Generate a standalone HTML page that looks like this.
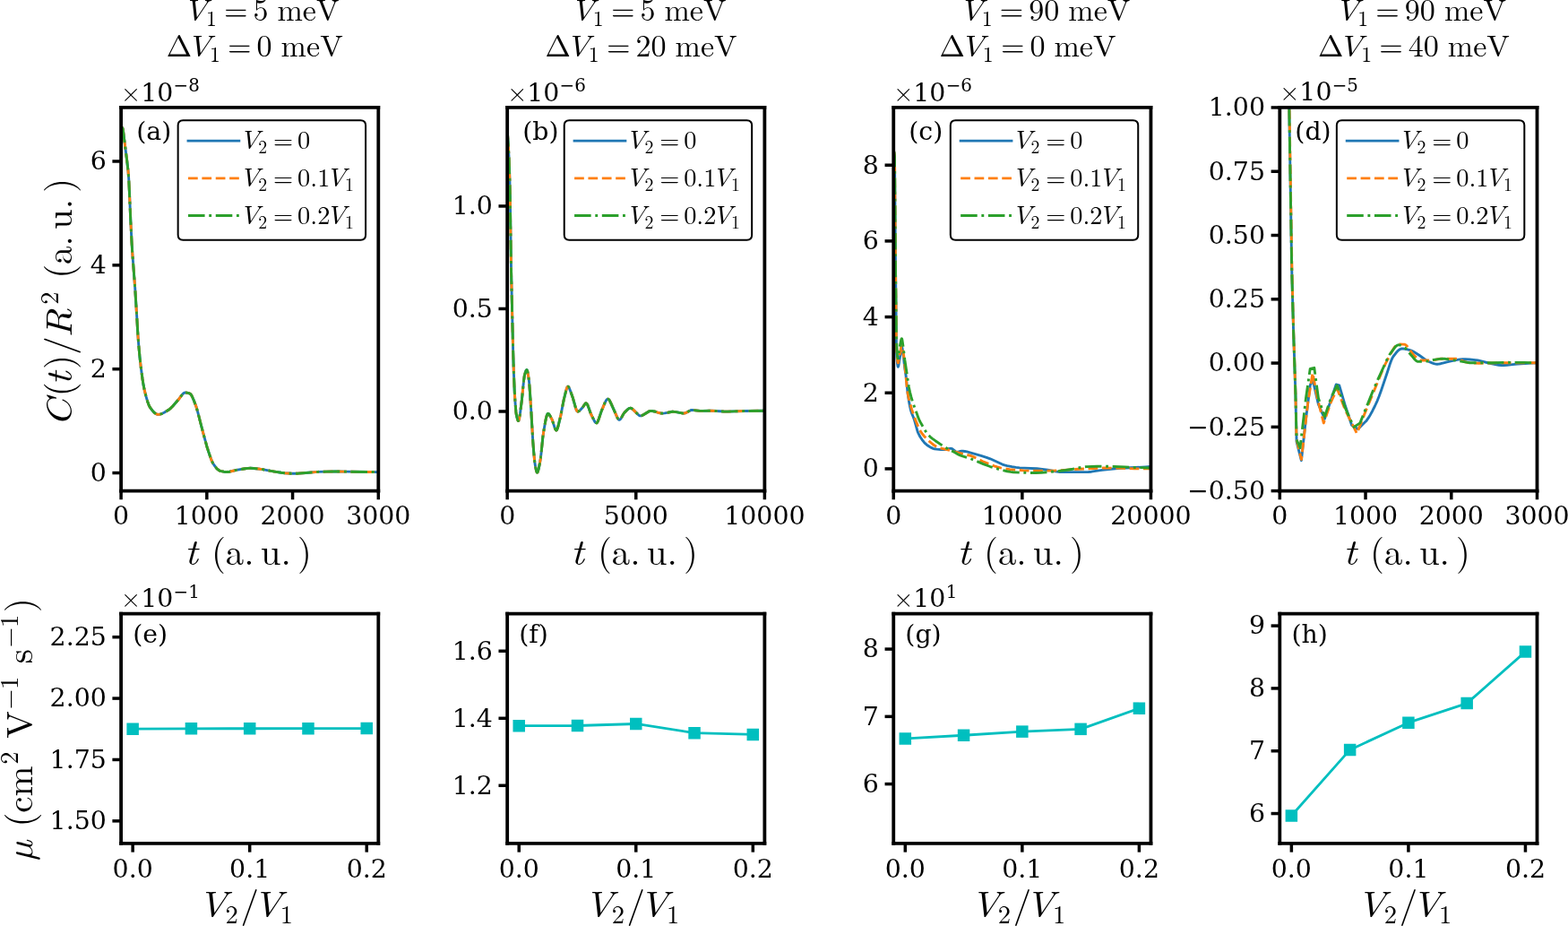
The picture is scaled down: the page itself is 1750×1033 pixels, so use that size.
<!DOCTYPE html>
<html><head><meta charset="utf-8"><title>Figure</title>
<style>html,body{margin:0;padding:0;background:#fff;overflow:hidden;}svg{display:block;}</style>
</head><body>
<svg width="1750" height="1033" viewBox="0 0 1750 1033" version="1.1">
<defs>
<style type="text/css">*{stroke-linejoin: round; stroke-linecap: butt}</style>
</defs>
<g id="figure_1">
<g id="patch_1">
<path d="M 0 1033 
L 1750 1033 
L 1750 0 
L 0 0 
z
" style="fill: #ffffff"/>
</g>
<g id="axes_1">
<g id="patch_2">
<path d="M 135.1 547.6 
L 422.3 547.6 
L 422.3 119.95 
L 135.1 119.95 
z
" style="fill: #ffffff"/>
</g>
<g id="matplotlib.axis_1">
<g id="xtick_1">
<g id="line2d_1">
<defs>
<path id="m4d94d78a84" d="M 0 0 
L 0 9.7 
" style="stroke: #000000; stroke-width: 3.5"/>
</defs>
<g>
<use href="#m4d94d78a84" x="135.1" y="547.6" style="stroke: #000000; stroke-width: 3.5"/>
</g>
</g>
<g id="text_1">
<text style="font-size: 28.4px; font-family: 'DejaVu Serif', serif; text-anchor: middle" x="135.1" y="585.479563" transform="rotate(-0 135.1 585.479563)">0</text>
</g>
</g>
<g id="xtick_2">
<g id="line2d_2">
<g>
<use href="#m4d94d78a84" x="230.833333" y="547.6" style="stroke: #000000; stroke-width: 3.5"/>
</g>
</g>
<g id="text_2">
<text style="font-size: 28.4px; font-family: 'DejaVu Serif', serif; text-anchor: middle" x="230.833333" y="585.479563" transform="rotate(-0 230.833333 585.479563)">1000</text>
</g>
</g>
<g id="xtick_3">
<g id="line2d_3">
<g>
<use href="#m4d94d78a84" x="326.566667" y="547.6" style="stroke: #000000; stroke-width: 3.5"/>
</g>
</g>
<g id="text_3">
<text style="font-size: 28.4px; font-family: 'DejaVu Serif', serif; text-anchor: middle" x="326.566667" y="585.479563" transform="rotate(-0 326.566667 585.479563)">2000</text>
</g>
</g>
<g id="xtick_4">
<g id="line2d_4">
<g>
<use href="#m4d94d78a84" x="422.3" y="547.6" style="stroke: #000000; stroke-width: 3.5"/>
</g>
</g>
<g id="text_4">
<text style="font-size: 28.4px; font-family: 'DejaVu Serif', serif; text-anchor: middle" x="422.3" y="585.479563" transform="rotate(-0 422.3 585.479563)">3000</text>
</g>
</g>
</g>
<g id="matplotlib.axis_2">
<g id="ytick_1">
<g id="line2d_5">
<defs>
<path id="ma1a91463b4" d="M 0 0 
L -9.7 0 
" style="stroke: #000000; stroke-width: 3.5"/>
</defs>
<g>
<use href="#ma1a91463b4" x="135.1" y="527.55" style="stroke: #000000; stroke-width: 3.5"/>
</g>
</g>
<g id="text_5">
<text style="font-size: 28.4px; font-family: 'DejaVu Serif', serif; text-anchor: end" x="118.8" y="536.940" transform="rotate(-0 118.8 536.940)">0</text>
</g>
</g>
<g id="ytick_2">
<g id="line2d_6">
<g>
<use href="#ma1a91463b4" x="135.1" y="411.69" style="stroke: #000000; stroke-width: 3.5"/>
</g>
</g>
<g id="text_6">
<text style="font-size: 28.4px; font-family: 'DejaVu Serif', serif; text-anchor: end" x="118.8" y="421.080" transform="rotate(-0 118.8 421.080)">2</text>
</g>
</g>
<g id="ytick_3">
<g id="line2d_7">
<g>
<use href="#ma1a91463b4" x="135.1" y="295.83" style="stroke: #000000; stroke-width: 3.5"/>
</g>
</g>
<g id="text_7">
<text style="font-size: 28.4px; font-family: 'DejaVu Serif', serif; text-anchor: end" x="118.8" y="305.220" transform="rotate(-0 118.8 305.220)">4</text>
</g>
</g>
<g id="ytick_4">
<g id="line2d_8">
<g>
<use href="#ma1a91463b4" x="135.1" y="179.97" style="stroke: #000000; stroke-width: 3.5"/>
</g>
</g>
<g id="text_8">
<text style="font-size: 28.4px; font-family: 'DejaVu Serif', serif; text-anchor: end" x="118.8" y="189.360" transform="rotate(-0 118.8 189.360)">6</text>
</g>
</g>
</g>
<g id="line2d_9">
<path d="M 135.1 141.5 
L 135.510873 141.597 
L 135.921745 141.868595 
L 136.8 142.9 
L 137.154363 144.048429 
L 137.565236 146.645865 
L 139.619599 163.026658 
L 141.5 177.5 
L 142.906581 189.710882 
L 143.728326 199.698481 
L 144.550072 217.245309 
L 145.78269 245.827871 
L 147.015308 270.226626 
L 147.837053 283.428229 
L 150.713162 321.332834 
L 152.767525 354.145226 
L 154.000143 375.059478 
L 154.821888 385.731341 
L 156.054506 399.024968 
L 157.287124 410.05329 
L 158.930615 422.204953 
L 160.163233 429.912893 
L 161.395851 435.982816 
L 163.039342 442.434036 
L 164.682833 447.978964 
L 165.915451 451.362277 
L 166.737196 453.178212 
L 167.7 454.8 
L 170.024177 457.849287 
L 171.667668 459.694713 
L 172.900286 460.827515 
L 174.132904 461.689213 
L 175.365522 462.229651 
L 176.5 462.4 
L 177.830758 462.296153 
L 179.474249 461.910379 
L 181.11774 461.289964 
L 183.172103 460.265749 
L 186.048212 458.554324 
L 188.92432 456.692025 
L 190.567811 455.281498 
L 192.622175 453.175181 
L 198.785265 446.296575 
L 200.428755 444.110399 
L 203.304864 440.25339 
L 204.537482 438.99461 
L 205.359227 438.402942 
L 206.180973 438.063471 
L 207.002718 438.004288 
L 208.646209 438.166412 
L 210.700572 438.645942 
L 211.93319 439.053609 
L 212.754936 439.692038 
L 213.576681 440.796219 
L 214.398426 442.277664 
L 215.631044 445.013636 
L 218.09628 451.243728 
L 219.328898 454.814043 
L 220.972389 460.589958 
L 223.848498 471.98375 
L 226.313734 481.325334 
L 230.833333 497.994833 
L 232.887697 504.398881 
L 235.352933 511.584494 
L 236.585551 514.646904 
L 237.818169 517.096112 
L 239.46166 519.512031 
L 241.516023 522.141639 
L 242.748641 523.437444 
L 243.981259 524.453901 
L 245.213877 525.13547 
L 246.857368 525.602615 
L 249.733476 526.198309 
L 252.198712 526.469053 
L 254.253076 526.465597 
L 256.307439 526.193861 
L 259.183548 525.523473 
L 263.703147 524.405657 
L 273.564092 522.719073 
L 276.851073 522.377315 
L 279.727182 522.30477 
L 283.014163 522.461916 
L 288.355508 522.988399 
L 292.875107 523.570127 
L 298.216452 524.555703 
L 306.433906 526.070722 
L 313.829614 527.299953 
L 317.93834 527.692562 
L 324.923176 528.184717 
L 329.442775 528.299975 
L 332.729757 528.176307 
L 341.358083 527.473945 
L 354.916881 526.326601 
L 364.366953 526.086867 
L 374.63877 526.003477 
L 387.375823 526.168398 
L 411.61731 526.485679 
L 422.3 526.6 
L 422.3 526.6 
" clip-path="url(#pfdea53a54f)" style="fill: none; stroke: #1f77b4; stroke-width: 2.9; stroke-linecap: square"/>
</g>
<g id="line2d_10">
<path d="M 135.1 141.5 
L 135.510873 141.597 
L 135.921745 141.868595 
L 136.8 142.9 
L 137.154363 144.048429 
L 137.565236 146.645865 
L 139.619599 163.026658 
L 141.5 177.5 
L 142.906581 189.710882 
L 143.728326 199.698481 
L 144.550072 217.245309 
L 145.78269 245.827871 
L 147.015308 270.226626 
L 147.837053 283.428229 
L 150.713162 321.332834 
L 152.767525 354.145226 
L 154.000143 375.059478 
L 154.821888 385.731341 
L 156.054506 399.024968 
L 157.287124 410.05329 
L 158.930615 422.204953 
L 160.163233 429.912893 
L 161.395851 435.982816 
L 163.039342 442.434036 
L 164.682833 447.978964 
L 165.915451 451.362277 
L 166.737196 453.178212 
L 167.7 454.8 
L 170.024177 457.849287 
L 171.667668 459.694713 
L 172.900286 460.827515 
L 174.132904 461.689213 
L 175.365522 462.229651 
L 176.5 462.4 
L 177.830758 462.296153 
L 179.474249 461.910379 
L 181.11774 461.289964 
L 183.172103 460.265749 
L 186.048212 458.554324 
L 188.92432 456.692025 
L 190.567811 455.281498 
L 192.622175 453.175181 
L 198.785265 446.296575 
L 200.428755 444.110399 
L 203.304864 440.25339 
L 204.537482 438.99461 
L 205.359227 438.402942 
L 206.180973 438.063471 
L 207.002718 438.004288 
L 208.646209 438.166412 
L 210.700572 438.645942 
L 211.93319 439.053609 
L 212.754936 439.692038 
L 213.576681 440.796219 
L 214.398426 442.277664 
L 215.631044 445.013636 
L 218.09628 451.243728 
L 219.328898 454.814043 
L 220.972389 460.589958 
L 223.848498 471.98375 
L 226.313734 481.325334 
L 230.833333 497.994833 
L 232.887697 504.398881 
L 235.352933 511.584494 
L 236.585551 514.646904 
L 237.818169 517.096112 
L 239.46166 519.512031 
L 241.516023 522.141639 
L 242.748641 523.437444 
L 243.981259 524.453901 
L 245.213877 525.13547 
L 246.857368 525.602615 
L 249.733476 526.198309 
L 252.198712 526.469053 
L 254.253076 526.465597 
L 256.307439 526.193861 
L 259.183548 525.523473 
L 263.703147 524.405657 
L 273.564092 522.719073 
L 276.851073 522.377315 
L 279.727182 522.30477 
L 283.014163 522.461916 
L 288.355508 522.988399 
L 292.875107 523.570127 
L 298.216452 524.555703 
L 306.433906 526.070722 
L 313.829614 527.299953 
L 317.93834 527.692562 
L 324.923176 528.184717 
L 329.442775 528.299975 
L 332.729757 528.176307 
L 341.358083 527.473945 
L 354.916881 526.326601 
L 364.366953 526.086867 
L 374.63877 526.003477 
L 387.375823 526.168398 
L 411.61731 526.485679 
L 422.3 526.6 
L 422.3 526.6 
" clip-path="url(#pfdea53a54f)" style="fill: none; stroke-dasharray: 10.73,4.64; stroke-dashoffset: 0; stroke: #ff7f0e; stroke-width: 2.9"/>
</g>
<g id="line2d_11">
<path d="M 135.1 141.5 
L 135.510873 141.597 
L 135.921745 141.868595 
L 136.8 142.9 
L 137.154363 144.048429 
L 137.565236 146.645865 
L 139.619599 163.026658 
L 141.5 177.5 
L 142.906581 189.710882 
L 143.728326 199.698481 
L 144.550072 217.245309 
L 145.78269 245.827871 
L 147.015308 270.226626 
L 147.837053 283.428229 
L 150.713162 321.332834 
L 152.767525 354.145226 
L 154.000143 375.059478 
L 154.821888 385.731341 
L 156.054506 399.024968 
L 157.287124 410.05329 
L 158.930615 422.204953 
L 160.163233 429.912893 
L 161.395851 435.982816 
L 163.039342 442.434036 
L 164.682833 447.978964 
L 165.915451 451.362277 
L 166.737196 453.178212 
L 167.7 454.8 
L 170.024177 457.849287 
L 171.667668 459.694713 
L 172.900286 460.827515 
L 174.132904 461.689213 
L 175.365522 462.229651 
L 176.5 462.4 
L 177.830758 462.296153 
L 179.474249 461.910379 
L 181.11774 461.289964 
L 183.172103 460.265749 
L 186.048212 458.554324 
L 188.92432 456.692025 
L 190.567811 455.281498 
L 192.622175 453.175181 
L 198.785265 446.296575 
L 200.428755 444.110399 
L 203.304864 440.25339 
L 204.537482 438.99461 
L 205.359227 438.402942 
L 206.180973 438.063471 
L 207.002718 438.004288 
L 208.646209 438.166412 
L 210.700572 438.645942 
L 211.93319 439.053609 
L 212.754936 439.692038 
L 213.576681 440.796219 
L 214.398426 442.277664 
L 215.631044 445.013636 
L 218.09628 451.243728 
L 219.328898 454.814043 
L 220.972389 460.589958 
L 223.848498 471.98375 
L 226.313734 481.325334 
L 230.833333 497.994833 
L 232.887697 504.398881 
L 235.352933 511.584494 
L 236.585551 514.646904 
L 237.818169 517.096112 
L 239.46166 519.512031 
L 241.516023 522.141639 
L 242.748641 523.437444 
L 243.981259 524.453901 
L 245.213877 525.13547 
L 246.857368 525.602615 
L 249.733476 526.198309 
L 252.198712 526.469053 
L 254.253076 526.465597 
L 256.307439 526.193861 
L 259.183548 525.523473 
L 263.703147 524.405657 
L 273.564092 522.719073 
L 276.851073 522.377315 
L 279.727182 522.30477 
L 283.014163 522.461916 
L 288.355508 522.988399 
L 292.875107 523.570127 
L 298.216452 524.555703 
L 306.433906 526.070722 
L 313.829614 527.299953 
L 317.93834 527.692562 
L 324.923176 528.184717 
L 329.442775 528.299975 
L 332.729757 528.176307 
L 341.358083 527.473945 
L 354.916881 526.326601 
L 364.366953 526.086867 
L 374.63877 526.003477 
L 387.375823 526.168398 
L 411.61731 526.485679 
L 422.3 526.6 
L 422.3 526.6 
" clip-path="url(#pfdea53a54f)" style="fill: none; stroke-dasharray: 18.56,4.64,2.9,4.64; stroke-dashoffset: 0; stroke: #2ca02c; stroke-width: 2.9"/>
</g>
<g id="patch_3">
<path d="M 135.1 547.6 
L 135.1 119.95 
" style="fill: none; stroke: #000000; stroke-width: 3.8; stroke-linejoin: miter; stroke-linecap: square"/>
</g>
<g id="patch_4">
<path d="M 422.3 547.6 
L 422.3 119.95 
" style="fill: none; stroke: #000000; stroke-width: 3.8; stroke-linejoin: miter; stroke-linecap: square"/>
</g>
<g id="patch_5">
<path d="M 135.1 547.6 
L 422.3 547.6 
" style="fill: none; stroke: #000000; stroke-width: 3.8; stroke-linejoin: miter; stroke-linecap: square"/>
</g>
<g id="patch_6">
<path d="M 135.1 119.95 
L 422.3 119.95 
" style="fill: none; stroke: #000000; stroke-width: 3.8; stroke-linejoin: miter; stroke-linecap: square"/>
</g>
<g id="legend_1">
<g id="patch_7">
<path d="M 204.33 267.727625 
L 402.42 267.727625 
Q 408.1 267.727625 408.1 262.047625 
L 408.1 139.83 
Q 408.1 134.15 402.42 134.15 
L 204.33 134.15 
Q 198.65 134.15 198.65 139.83 
L 198.65 262.047625 
Q 198.65 267.727625 204.33 267.727625 
z
" style="fill: #ffffff; stroke: #000000; stroke-width: 2; stroke-linejoin: miter"/>
</g>
<g id="line2d_12">
<path d="M 210.01 157.149563 
L 238.41 157.149563 
L 266.81 157.149563 
" style="fill: none; stroke: #1f77b4; stroke-width: 2.9; stroke-linecap: square"/>
</g>
<g id="text_9">
<g transform="translate(271.78 167.089563)">
<text><tspan x="-4.863" y="-0.609" textLength="22.858" lengthAdjust="spacingAndGlyphs" style="font-size: 28.4px; font-family: 'LM Roman 10', 'Latin Modern Roman', 'Latin Modern Math', 'Liberation Serif', serif; font-style: italic">V</tspan><tspan x="16.552" y="4.220" style="font-size: 19.88px; font-family: 'LM Roman 10', 'Latin Modern Roman', 'Latin Modern Math', 'Liberation Serif', serif">2</tspan><tspan x="30.181 33.285 57.601 60.325" y="-0.609" style="font-size: 28.4px; font-family: 'LM Roman 10', 'Latin Modern Roman', 'Latin Modern Math', 'Liberation Serif', serif"> = 0</tspan></text>
</g>
</g>
<g id="line2d_13">
<path d="M 210.01 198.835438 
L 238.41 198.835438 
L 266.81 198.835438 
" style="fill: none; stroke-dasharray: 10.73,4.64; stroke-dashoffset: 0; stroke: #ff7f0e; stroke-width: 2.9"/>
</g>
<g id="text_10">
<g transform="translate(271.78 208.775438)">
<text><tspan x="-4.863" y="-0.609" textLength="22.858" lengthAdjust="spacingAndGlyphs" style="font-size: 28.4px; font-family: 'LM Roman 10', 'Latin Modern Roman', 'Latin Modern Math', 'Liberation Serif', serif; font-style: italic">V</tspan><tspan x="16.552" y="4.220" style="font-size: 19.88px; font-family: 'LM Roman 10', 'Latin Modern Roman', 'Latin Modern Math', 'Liberation Serif', serif">2</tspan><tspan x="30.181 33.285 57.601 60.325 74.521 82.381" y="-0.609" style="font-size: 28.4px; font-family: 'LM Roman 10', 'Latin Modern Roman', 'Latin Modern Math', 'Liberation Serif', serif"> = 0.1</tspan><tspan x="91.713" y="-0.609" textLength="22.858" lengthAdjust="spacingAndGlyphs" style="font-size: 28.4px; font-family: 'LM Roman 10', 'Latin Modern Roman', 'Latin Modern Math', 'Liberation Serif', serif; font-style: italic">V</tspan><tspan x="113.128" y="4.220" style="font-size: 19.88px; font-family: 'LM Roman 10', 'Latin Modern Roman', 'Latin Modern Math', 'Liberation Serif', serif">1</tspan></text>
</g>
</g>
<g id="line2d_14">
<path d="M 210.01 240.521313 
L 238.41 240.521313 
L 266.81 240.521313 
" style="fill: none; stroke-dasharray: 18.56,4.64,2.9,4.64; stroke-dashoffset: 0; stroke: #2ca02c; stroke-width: 2.9"/>
</g>
<g id="text_11">
<g transform="translate(271.78 250.461313)">
<text><tspan x="-4.863" y="-0.609" textLength="22.858" lengthAdjust="spacingAndGlyphs" style="font-size: 28.4px; font-family: 'LM Roman 10', 'Latin Modern Roman', 'Latin Modern Math', 'Liberation Serif', serif; font-style: italic">V</tspan><tspan x="16.552" y="4.220" style="font-size: 19.88px; font-family: 'LM Roman 10', 'Latin Modern Roman', 'Latin Modern Math', 'Liberation Serif', serif">2</tspan><tspan x="30.181 33.285 57.601 60.325 74.521 82.381" y="-0.609" style="font-size: 28.4px; font-family: 'LM Roman 10', 'Latin Modern Roman', 'Latin Modern Math', 'Liberation Serif', serif"> = 0.2</tspan><tspan x="91.713" y="-0.609" textLength="22.858" lengthAdjust="spacingAndGlyphs" style="font-size: 28.4px; font-family: 'LM Roman 10', 'Latin Modern Roman', 'Latin Modern Math', 'Liberation Serif', serif; font-style: italic">V</tspan><tspan x="113.128" y="4.220" style="font-size: 19.88px; font-family: 'LM Roman 10', 'Latin Modern Roman', 'Latin Modern Math', 'Liberation Serif', serif">1</tspan></text>
</g>
</g>
</g>
</g>
<g id="axes_2">
<g id="patch_8">
<path d="M 566.17 547.6 
L 853.37 547.6 
L 853.37 119.95 
L 566.17 119.95 
z
" style="fill: #ffffff"/>
</g>
<g id="matplotlib.axis_3">
<g id="xtick_5">
<g id="line2d_15">
<g>
<use href="#m4d94d78a84" x="566.17" y="547.6" style="stroke: #000000; stroke-width: 3.5"/>
</g>
</g>
<g id="text_12">
<text style="font-size: 28.4px; font-family: 'DejaVu Serif', serif; text-anchor: middle" x="566.17" y="585.479563" transform="rotate(-0 566.17 585.479563)">0</text>
</g>
</g>
<g id="xtick_6">
<g id="line2d_16">
<g>
<use href="#m4d94d78a84" x="709.77" y="547.6" style="stroke: #000000; stroke-width: 3.5"/>
</g>
</g>
<g id="text_13">
<text style="font-size: 28.4px; font-family: 'DejaVu Serif', serif; text-anchor: middle" x="709.77" y="585.479563" transform="rotate(-0 709.77 585.479563)">5000</text>
</g>
</g>
<g id="xtick_7">
<g id="line2d_17">
<g>
<use href="#m4d94d78a84" x="853.37" y="547.6" style="stroke: #000000; stroke-width: 3.5"/>
</g>
</g>
<g id="text_14">
<text style="font-size: 28.4px; font-family: 'DejaVu Serif', serif; text-anchor: middle" x="853.37" y="585.479563" transform="rotate(-0 853.37 585.479563)">10000</text>
</g>
</g>
</g>
<g id="matplotlib.axis_4">
<g id="ytick_5">
<g id="line2d_18">
<g>
<use href="#ma1a91463b4" x="566.17" y="458.97" style="stroke: #000000; stroke-width: 3.5"/>
</g>
</g>
<g id="text_15">
<text style="font-size: 28.4px; font-family: 'DejaVu Serif', serif; text-anchor: end" x="549.87" y="468.360" transform="rotate(-0 549.87 468.360)">0.0</text>
</g>
</g>
<g id="ytick_6">
<g id="line2d_19">
<g>
<use href="#ma1a91463b4" x="566.17" y="344.46" style="stroke: #000000; stroke-width: 3.5"/>
</g>
</g>
<g id="text_16">
<text style="font-size: 28.4px; font-family: 'DejaVu Serif', serif; text-anchor: end" x="549.87" y="353.850" transform="rotate(-0 549.87 353.850)">0.5</text>
</g>
</g>
<g id="ytick_7">
<g id="line2d_20">
<g>
<use href="#ma1a91463b4" x="566.17" y="229.95" style="stroke: #000000; stroke-width: 3.5"/>
</g>
</g>
<g id="text_17">
<text style="font-size: 28.4px; font-family: 'DejaVu Serif', serif; text-anchor: end" x="549.87" y="239.340" transform="rotate(-0 549.87 239.340)">1.0</text>
</g>
</g>
</g>
<g id="line2d_21">
<path d="M 566 145 
L 566.410873 148.671039 
L 567.232618 160.371338 
L 568.054363 176.421365 
L 568.876109 200.479967 
L 569.286981 218.919596 
L 570.519599 300.976805 
L 572.573963 389.330737 
L 573.395708 415.9084 
L 574.217454 435.97995 
L 575.039199 449.48244 
L 575.860944 459.48219 
L 576.3 462.6 
L 577.093562 466.170739 
L 577.915308 468.733256 
L 578.32618 469.371056 
L 578.737053 469.44323 
L 579.147926 468.64091 
L 579.558798 467.01726 
L 580.380544 461.957497 
L 582.434907 445.942417 
L 583.667525 433.439335 
L 584.48927 425.146444 
L 585.311016 419.218684 
L 586.132761 416.141003 
L 586.954506 413.760839 
L 587.365379 412.994691 
L 587.9 412.6 
L 588.187124 412.837525 
L 588.597997 413.914569 
L 589.00887 415.692745 
L 589.830615 420.61124 
L 590.241488 423.389216 
L 590.652361 427.059173 
L 591.474106 437.666973 
L 593.117597 463.637442 
L 594.761087 492.28156 
L 595.993705 507.741902 
L 596.815451 515.705522 
L 597.637196 520.741145 
L 598.458941 524.769686 
L 598.869814 526.183041 
L 599.280687 526.981305 
L 599.5 527.1 
L 599.691559 527.037105 
L 600.102432 526.505901 
L 600.513305 525.498247 
L 601.33505 522.365609 
L 602.567668 516.043397 
L 603.389413 511.198197 
L 604.211159 503.879644 
L 605.854649 487.45386 
L 606.676395 481.858777 
L 608.730758 469.977637 
L 609.552504 466.099953 
L 610.374249 463.203405 
L 610.785122 462.223321 
L 611.195994 461.608839 
L 611.606867 461.400028 
L 612.01774 461.499888 
L 612.428612 461.775591 
L 613.250358 462.75174 
L 614.482976 464.892352 
L 616.126466 468.09505 
L 616.948212 470.400277 
L 619.413448 478.167785 
L 620.235193 479.663442 
L 620.8 480 
L 621.056938 479.917516 
L 621.467811 479.467132 
L 621.878684 478.673235 
L 622.700429 476.276037 
L 623.933047 471.486012 
L 625.987411 462.870309 
L 627.630901 454.084125 
L 629.274392 445.74432 
L 632.150501 434.239005 
L 632.972246 432.046974 
L 633.383119 431.425187 
L 633.8 431.2 
L 634.204864 431.346506 
L 634.615737 431.76528 
L 635.437482 433.24029 
L 636.6701 436.373534 
L 639.135336 443.220049 
L 642.83319 456.212958 
L 643.654936 458.048174 
L 644.065808 458.652523 
L 644.476681 459.010301 
L 644.887554 459.097782 
L 645.709299 458.879421 
L 646.531044 458.368228 
L 647.763662 457.252421 
L 650.228898 454.593559 
L 653.105007 450.313585 
L 653.51588 449.986696 
L 654.1 449.8 
L 654.337625 449.845353 
L 654.748498 450.124655 
L 655.159371 450.631323 
L 655.981116 452.200256 
L 657.213734 455.468253 
L 659.268097 461.245428 
L 660.500715 463.775228 
L 663.376824 469.655146 
L 664.198569 470.88805 
L 665.020315 471.677392 
L 665.7 471.9 
L 665.84206 471.882363 
L 666.252933 471.642968 
L 666.663805 471.149933 
L 667.485551 469.537633 
L 668.307296 467.314836 
L 671.5 457.9 
L 672.826896 454.839126 
L 675.292132 448.931035 
L 676.52475 446.640855 
L 677.346495 445.617046 
L 677.757368 445.298107 
L 678.4 445.1 
L 678.579113 445.116589 
L 678.989986 445.274622 
L 679.811731 446.038383 
L 680.633476 447.294999 
L 681.866094 449.830836 
L 685.563948 458.206316 
L 686.796567 460.897527 
L 688.85093 465.65782 
L 689.672675 467.138119 
L 690.494421 468.108784 
L 691.2 468.4 
L 691.316166 468.392528 
L 691.727039 468.252414 
L 692.548784 467.51493 
L 693.370529 466.319083 
L 695.01402 463.278587 
L 696.246638 461.145457 
L 697.068383 460.131897 
L 700.766237 456.484285 
L 701.998856 455.647892 
L 702.820601 455.312112 
L 703.642346 455.20047 
L 704.464092 455.381597 
L 705.285837 455.836983 
L 706.518455 456.865134 
L 711.8598 462.15231 
L 713.092418 463.289084 
L 713.914163 463.762266 
L 714.735908 463.897864 
L 715.968526 463.69851 
L 717.201144 463.22653 
L 718.844635 462.299916 
L 724.18598 458.943031 
L 725.418598 458.528004 
L 726.651216 458.401122 
L 728.294707 458.544355 
L 730.34907 458.985612 
L 734.046924 460.109009 
L 736.51216 460.771553 
L 738.155651 461.039117 
L 739.799142 461.090765 
L 741.853505 460.886928 
L 744.729614 460.31777 
L 748.83834 459.484544 
L 750.892704 459.303539 
L 752.536195 459.362987 
L 754.590558 459.655104 
L 762.397139 461.081904 
L 763.629757 461.064819 
L 764.862375 460.747223 
L 766.094993 460.186826 
L 770.614592 457.789736 
L 771.84721 457.515813 
L 773.490701 457.540337 
L 776.36681 457.833153 
L 781.297282 458.375149 
L 784.173391 458.378061 
L 794.034335 458.250581 
L 799.37568 458.563845 
L 807.593133 459.066959 
L 812.112732 459.081842 
L 819.919313 458.857696 
L 831.834621 458.523468 
L 853.2 458.2 
L 853.2 458.2 
" clip-path="url(#p619d3c3fff)" style="fill: none; stroke: #1f77b4; stroke-width: 2.9; stroke-linecap: square"/>
</g>
<g id="line2d_22">
<path d="M 566 145 
L 566.410873 148.671039 
L 567.232618 160.371338 
L 568.054363 176.421365 
L 568.876109 200.479967 
L 569.286981 218.919596 
L 570.519599 300.976805 
L 572.573963 389.330737 
L 573.395708 415.9084 
L 574.217454 435.97995 
L 575.039199 449.48244 
L 575.860944 459.48219 
L 576.3 462.6 
L 577.093562 466.170739 
L 577.915308 468.733256 
L 578.32618 469.371056 
L 578.737053 469.44323 
L 579.147926 468.64091 
L 579.558798 467.01726 
L 580.380544 461.957497 
L 582.434907 445.942417 
L 583.667525 433.439335 
L 584.48927 425.146444 
L 585.311016 419.218684 
L 586.132761 416.141003 
L 586.954506 413.760839 
L 587.365379 412.994691 
L 587.9 412.6 
L 588.187124 412.837525 
L 588.597997 413.914569 
L 589.00887 415.692745 
L 589.830615 420.61124 
L 590.241488 423.389216 
L 590.652361 427.059173 
L 591.474106 437.666973 
L 593.117597 463.637442 
L 594.761087 492.28156 
L 595.993705 507.741902 
L 596.815451 515.705522 
L 597.637196 520.741145 
L 598.458941 524.769686 
L 598.869814 526.183041 
L 599.280687 526.981305 
L 599.5 527.1 
L 599.691559 527.037105 
L 600.102432 526.505901 
L 600.513305 525.498247 
L 601.33505 522.365609 
L 602.567668 516.043397 
L 603.389413 511.198197 
L 604.211159 503.879644 
L 605.854649 487.45386 
L 606.676395 481.858777 
L 608.730758 469.977637 
L 609.552504 466.099953 
L 610.374249 463.203405 
L 610.785122 462.223321 
L 611.195994 461.608839 
L 611.606867 461.400028 
L 612.01774 461.499888 
L 612.428612 461.775591 
L 613.250358 462.75174 
L 614.482976 464.892352 
L 616.126466 468.09505 
L 616.948212 470.400277 
L 619.413448 478.167785 
L 620.235193 479.663442 
L 620.8 480 
L 621.056938 479.917516 
L 621.467811 479.467132 
L 621.878684 478.673235 
L 622.700429 476.276037 
L 623.933047 471.486012 
L 625.987411 462.870309 
L 627.630901 454.084125 
L 629.274392 445.74432 
L 632.150501 434.239005 
L 632.972246 432.046974 
L 633.383119 431.425187 
L 633.8 431.2 
L 634.204864 431.346506 
L 634.615737 431.76528 
L 635.437482 433.24029 
L 636.6701 436.373534 
L 639.135336 443.220049 
L 642.83319 456.212958 
L 643.654936 458.048174 
L 644.065808 458.652523 
L 644.476681 459.010301 
L 644.887554 459.097782 
L 645.709299 458.879421 
L 646.531044 458.368228 
L 647.763662 457.252421 
L 650.228898 454.593559 
L 653.105007 450.313585 
L 653.51588 449.986696 
L 654.1 449.8 
L 654.337625 449.845353 
L 654.748498 450.124655 
L 655.159371 450.631323 
L 655.981116 452.200256 
L 657.213734 455.468253 
L 659.268097 461.245428 
L 660.500715 463.775228 
L 663.376824 469.655146 
L 664.198569 470.88805 
L 665.020315 471.677392 
L 665.7 471.9 
L 665.84206 471.882363 
L 666.252933 471.642968 
L 666.663805 471.149933 
L 667.485551 469.537633 
L 668.307296 467.314836 
L 671.5 457.9 
L 672.826896 454.839126 
L 675.292132 448.931035 
L 676.52475 446.640855 
L 677.346495 445.617046 
L 677.757368 445.298107 
L 678.4 445.1 
L 678.579113 445.116589 
L 678.989986 445.274622 
L 679.811731 446.038383 
L 680.633476 447.294999 
L 681.866094 449.830836 
L 685.563948 458.206316 
L 686.796567 460.897527 
L 688.85093 465.65782 
L 689.672675 467.138119 
L 690.494421 468.108784 
L 691.2 468.4 
L 691.316166 468.392528 
L 691.727039 468.252414 
L 692.548784 467.51493 
L 693.370529 466.319083 
L 695.01402 463.278587 
L 696.246638 461.145457 
L 697.068383 460.131897 
L 700.766237 456.484285 
L 701.998856 455.647892 
L 702.820601 455.312112 
L 703.642346 455.20047 
L 704.464092 455.381597 
L 705.285837 455.836983 
L 706.518455 456.865134 
L 711.8598 462.15231 
L 713.092418 463.289084 
L 713.914163 463.762266 
L 714.735908 463.897864 
L 715.968526 463.69851 
L 717.201144 463.22653 
L 718.844635 462.299916 
L 724.18598 458.943031 
L 725.418598 458.528004 
L 726.651216 458.401122 
L 728.294707 458.544355 
L 730.34907 458.985612 
L 734.046924 460.109009 
L 736.51216 460.771553 
L 738.155651 461.039117 
L 739.799142 461.090765 
L 741.853505 460.886928 
L 744.729614 460.31777 
L 748.83834 459.484544 
L 750.892704 459.303539 
L 752.536195 459.362987 
L 754.590558 459.655104 
L 762.397139 461.081904 
L 763.629757 461.064819 
L 764.862375 460.747223 
L 766.094993 460.186826 
L 770.614592 457.789736 
L 771.84721 457.515813 
L 773.490701 457.540337 
L 776.36681 457.833153 
L 781.297282 458.375149 
L 784.173391 458.378061 
L 794.034335 458.250581 
L 799.37568 458.563845 
L 807.593133 459.066959 
L 812.112732 459.081842 
L 819.919313 458.857696 
L 831.834621 458.523468 
L 853.2 458.2 
L 853.2 458.2 
" clip-path="url(#p619d3c3fff)" style="fill: none; stroke-dasharray: 10.73,4.64; stroke-dashoffset: 0; stroke: #ff7f0e; stroke-width: 2.9"/>
</g>
<g id="line2d_23">
<path d="M 566 145 
L 566.410873 148.671039 
L 567.232618 160.371338 
L 568.054363 176.421365 
L 568.876109 200.479967 
L 569.286981 218.919596 
L 570.519599 300.976805 
L 572.573963 389.330737 
L 573.395708 415.9084 
L 574.217454 435.97995 
L 575.039199 449.48244 
L 575.860944 459.48219 
L 576.3 462.6 
L 577.093562 466.170739 
L 577.915308 468.733256 
L 578.32618 469.371056 
L 578.737053 469.44323 
L 579.147926 468.64091 
L 579.558798 467.01726 
L 580.380544 461.957497 
L 582.434907 445.942417 
L 583.667525 433.439335 
L 584.48927 425.146444 
L 585.311016 419.218684 
L 586.132761 416.141003 
L 586.954506 413.760839 
L 587.365379 412.994691 
L 587.9 412.6 
L 588.187124 412.837525 
L 588.597997 413.914569 
L 589.00887 415.692745 
L 589.830615 420.61124 
L 590.241488 423.389216 
L 590.652361 427.059173 
L 591.474106 437.666973 
L 593.117597 463.637442 
L 594.761087 492.28156 
L 595.993705 507.741902 
L 596.815451 515.705522 
L 597.637196 520.741145 
L 598.458941 524.769686 
L 598.869814 526.183041 
L 599.280687 526.981305 
L 599.5 527.1 
L 599.691559 527.037105 
L 600.102432 526.505901 
L 600.513305 525.498247 
L 601.33505 522.365609 
L 602.567668 516.043397 
L 603.389413 511.198197 
L 604.211159 503.879644 
L 605.854649 487.45386 
L 606.676395 481.858777 
L 608.730758 469.977637 
L 609.552504 466.099953 
L 610.374249 463.203405 
L 610.785122 462.223321 
L 611.195994 461.608839 
L 611.606867 461.400028 
L 612.01774 461.499888 
L 612.428612 461.775591 
L 613.250358 462.75174 
L 614.482976 464.892352 
L 616.126466 468.09505 
L 616.948212 470.400277 
L 619.413448 478.167785 
L 620.235193 479.663442 
L 620.8 480 
L 621.056938 479.917516 
L 621.467811 479.467132 
L 621.878684 478.673235 
L 622.700429 476.276037 
L 623.933047 471.486012 
L 625.987411 462.870309 
L 627.630901 454.084125 
L 629.274392 445.74432 
L 632.150501 434.239005 
L 632.972246 432.046974 
L 633.383119 431.425187 
L 633.8 431.2 
L 634.204864 431.346506 
L 634.615737 431.76528 
L 635.437482 433.24029 
L 636.6701 436.373534 
L 639.135336 443.220049 
L 642.83319 456.212958 
L 643.654936 458.048174 
L 644.065808 458.652523 
L 644.476681 459.010301 
L 644.887554 459.097782 
L 645.709299 458.879421 
L 646.531044 458.368228 
L 647.763662 457.252421 
L 650.228898 454.593559 
L 653.105007 450.313585 
L 653.51588 449.986696 
L 654.1 449.8 
L 654.337625 449.845353 
L 654.748498 450.124655 
L 655.159371 450.631323 
L 655.981116 452.200256 
L 657.213734 455.468253 
L 659.268097 461.245428 
L 660.500715 463.775228 
L 663.376824 469.655146 
L 664.198569 470.88805 
L 665.020315 471.677392 
L 665.7 471.9 
L 665.84206 471.882363 
L 666.252933 471.642968 
L 666.663805 471.149933 
L 667.485551 469.537633 
L 668.307296 467.314836 
L 671.5 457.9 
L 672.826896 454.839126 
L 675.292132 448.931035 
L 676.52475 446.640855 
L 677.346495 445.617046 
L 677.757368 445.298107 
L 678.4 445.1 
L 678.579113 445.116589 
L 678.989986 445.274622 
L 679.811731 446.038383 
L 680.633476 447.294999 
L 681.866094 449.830836 
L 685.563948 458.206316 
L 686.796567 460.897527 
L 688.85093 465.65782 
L 689.672675 467.138119 
L 690.494421 468.108784 
L 691.2 468.4 
L 691.316166 468.392528 
L 691.727039 468.252414 
L 692.548784 467.51493 
L 693.370529 466.319083 
L 695.01402 463.278587 
L 696.246638 461.145457 
L 697.068383 460.131897 
L 700.766237 456.484285 
L 701.998856 455.647892 
L 702.820601 455.312112 
L 703.642346 455.20047 
L 704.464092 455.381597 
L 705.285837 455.836983 
L 706.518455 456.865134 
L 711.8598 462.15231 
L 713.092418 463.289084 
L 713.914163 463.762266 
L 714.735908 463.897864 
L 715.968526 463.69851 
L 717.201144 463.22653 
L 718.844635 462.299916 
L 724.18598 458.943031 
L 725.418598 458.528004 
L 726.651216 458.401122 
L 728.294707 458.544355 
L 730.34907 458.985612 
L 734.046924 460.109009 
L 736.51216 460.771553 
L 738.155651 461.039117 
L 739.799142 461.090765 
L 741.853505 460.886928 
L 744.729614 460.31777 
L 748.83834 459.484544 
L 750.892704 459.303539 
L 752.536195 459.362987 
L 754.590558 459.655104 
L 762.397139 461.081904 
L 763.629757 461.064819 
L 764.862375 460.747223 
L 766.094993 460.186826 
L 770.614592 457.789736 
L 771.84721 457.515813 
L 773.490701 457.540337 
L 776.36681 457.833153 
L 781.297282 458.375149 
L 784.173391 458.378061 
L 794.034335 458.250581 
L 799.37568 458.563845 
L 807.593133 459.066959 
L 812.112732 459.081842 
L 819.919313 458.857696 
L 831.834621 458.523468 
L 853.2 458.2 
L 853.2 458.2 
" clip-path="url(#p619d3c3fff)" style="fill: none; stroke-dasharray: 18.56,4.64,2.9,4.64; stroke-dashoffset: 0; stroke: #2ca02c; stroke-width: 2.9"/>
</g>
<g id="patch_9">
<path d="M 566.17 547.6 
L 566.17 119.95 
" style="fill: none; stroke: #000000; stroke-width: 3.8; stroke-linejoin: miter; stroke-linecap: square"/>
</g>
<g id="patch_10">
<path d="M 853.37 547.6 
L 853.37 119.95 
" style="fill: none; stroke: #000000; stroke-width: 3.8; stroke-linejoin: miter; stroke-linecap: square"/>
</g>
<g id="patch_11">
<path d="M 566.17 547.6 
L 853.37 547.6 
" style="fill: none; stroke: #000000; stroke-width: 3.8; stroke-linejoin: miter; stroke-linecap: square"/>
</g>
<g id="patch_12">
<path d="M 566.17 119.95 
L 853.37 119.95 
" style="fill: none; stroke: #000000; stroke-width: 3.8; stroke-linejoin: miter; stroke-linecap: square"/>
</g>
<g id="legend_2">
<g id="patch_13">
<path d="M 635.4 267.727625 
L 833.49 267.727625 
Q 839.17 267.727625 839.17 262.047625 
L 839.17 139.83 
Q 839.17 134.15 833.49 134.15 
L 635.4 134.15 
Q 629.72 134.15 629.72 139.83 
L 629.72 262.047625 
Q 629.72 267.727625 635.4 267.727625 
z
" style="fill: #ffffff; stroke: #000000; stroke-width: 2; stroke-linejoin: miter"/>
</g>
<g id="line2d_24">
<path d="M 641.08 157.149563 
L 669.48 157.149563 
L 697.88 157.149563 
" style="fill: none; stroke: #1f77b4; stroke-width: 2.9; stroke-linecap: square"/>
</g>
<g id="text_18">
<g transform="translate(702.85 167.089563)">
<text><tspan x="-4.863" y="-0.609" textLength="22.858" lengthAdjust="spacingAndGlyphs" style="font-size: 28.4px; font-family: 'LM Roman 10', 'Latin Modern Roman', 'Latin Modern Math', 'Liberation Serif', serif; font-style: italic">V</tspan><tspan x="16.552" y="4.220" style="font-size: 19.88px; font-family: 'LM Roman 10', 'Latin Modern Roman', 'Latin Modern Math', 'Liberation Serif', serif">2</tspan><tspan x="30.181 33.285 57.601 60.325" y="-0.609" style="font-size: 28.4px; font-family: 'LM Roman 10', 'Latin Modern Roman', 'Latin Modern Math', 'Liberation Serif', serif"> = 0</tspan></text>
</g>
</g>
<g id="line2d_25">
<path d="M 641.08 198.835438 
L 669.48 198.835438 
L 697.88 198.835438 
" style="fill: none; stroke-dasharray: 10.73,4.64; stroke-dashoffset: 0; stroke: #ff7f0e; stroke-width: 2.9"/>
</g>
<g id="text_19">
<g transform="translate(702.85 208.775438)">
<text><tspan x="-4.863" y="-0.609" textLength="22.858" lengthAdjust="spacingAndGlyphs" style="font-size: 28.4px; font-family: 'LM Roman 10', 'Latin Modern Roman', 'Latin Modern Math', 'Liberation Serif', serif; font-style: italic">V</tspan><tspan x="16.552" y="4.220" style="font-size: 19.88px; font-family: 'LM Roman 10', 'Latin Modern Roman', 'Latin Modern Math', 'Liberation Serif', serif">2</tspan><tspan x="30.181 33.285 57.601 60.325 74.521 82.381" y="-0.609" style="font-size: 28.4px; font-family: 'LM Roman 10', 'Latin Modern Roman', 'Latin Modern Math', 'Liberation Serif', serif"> = 0.1</tspan><tspan x="91.713" y="-0.609" textLength="22.858" lengthAdjust="spacingAndGlyphs" style="font-size: 28.4px; font-family: 'LM Roman 10', 'Latin Modern Roman', 'Latin Modern Math', 'Liberation Serif', serif; font-style: italic">V</tspan><tspan x="113.128" y="4.220" style="font-size: 19.88px; font-family: 'LM Roman 10', 'Latin Modern Roman', 'Latin Modern Math', 'Liberation Serif', serif">1</tspan></text>
</g>
</g>
<g id="line2d_26">
<path d="M 641.08 240.521313 
L 669.48 240.521313 
L 697.88 240.521313 
" style="fill: none; stroke-dasharray: 18.56,4.64,2.9,4.64; stroke-dashoffset: 0; stroke: #2ca02c; stroke-width: 2.9"/>
</g>
<g id="text_20">
<g transform="translate(702.85 250.461313)">
<text><tspan x="-4.863" y="-0.609" textLength="22.858" lengthAdjust="spacingAndGlyphs" style="font-size: 28.4px; font-family: 'LM Roman 10', 'Latin Modern Roman', 'Latin Modern Math', 'Liberation Serif', serif; font-style: italic">V</tspan><tspan x="16.552" y="4.220" style="font-size: 19.88px; font-family: 'LM Roman 10', 'Latin Modern Roman', 'Latin Modern Math', 'Liberation Serif', serif">2</tspan><tspan x="30.181 33.285 57.601 60.325 74.521 82.381" y="-0.609" style="font-size: 28.4px; font-family: 'LM Roman 10', 'Latin Modern Roman', 'Latin Modern Math', 'Liberation Serif', serif"> = 0.2</tspan><tspan x="91.713" y="-0.609" textLength="22.858" lengthAdjust="spacingAndGlyphs" style="font-size: 28.4px; font-family: 'LM Roman 10', 'Latin Modern Roman', 'Latin Modern Math', 'Liberation Serif', serif; font-style: italic">V</tspan><tspan x="113.128" y="4.220" style="font-size: 19.88px; font-family: 'LM Roman 10', 'Latin Modern Roman', 'Latin Modern Math', 'Liberation Serif', serif">1</tspan></text>
</g>
</g>
</g>
</g>
<g id="axes_3">
<g id="patch_14">
<path d="M 997.24 547.6 
L 1284.44 547.6 
L 1284.44 119.95 
L 997.24 119.95 
z
" style="fill: #ffffff"/>
</g>
<g id="matplotlib.axis_5">
<g id="xtick_8">
<g id="line2d_27">
<g>
<use href="#m4d94d78a84" x="997.24" y="547.6" style="stroke: #000000; stroke-width: 3.5"/>
</g>
</g>
<g id="text_21">
<text style="font-size: 28.4px; font-family: 'DejaVu Serif', serif; text-anchor: middle" x="997.24" y="585.479563" transform="rotate(-0 997.24 585.479563)">0</text>
</g>
</g>
<g id="xtick_9">
<g id="line2d_28">
<g>
<use href="#m4d94d78a84" x="1140.84" y="547.6" style="stroke: #000000; stroke-width: 3.5"/>
</g>
</g>
<g id="text_22">
<text style="font-size: 28.4px; font-family: 'DejaVu Serif', serif; text-anchor: middle" x="1140.84" y="585.479563" transform="rotate(-0 1140.84 585.479563)">10000</text>
</g>
</g>
<g id="xtick_10">
<g id="line2d_29">
<g>
<use href="#m4d94d78a84" x="1284.44" y="547.6" style="stroke: #000000; stroke-width: 3.5"/>
</g>
</g>
<g id="text_23">
<text style="font-size: 28.4px; font-family: 'DejaVu Serif', serif; text-anchor: middle" x="1284.44" y="585.479563" transform="rotate(-0 1284.44 585.479563)">20000</text>
</g>
</g>
</g>
<g id="matplotlib.axis_6">
<g id="ytick_8">
<g id="line2d_30">
<g>
<use href="#ma1a91463b4" x="997.24" y="522.94" style="stroke: #000000; stroke-width: 3.5"/>
</g>
</g>
<g id="text_24">
<text style="font-size: 28.4px; font-family: 'DejaVu Serif', serif; text-anchor: end" x="980.94" y="532.330" transform="rotate(-0 980.94 532.330)">0</text>
</g>
</g>
<g id="ytick_9">
<g id="line2d_31">
<g>
<use href="#ma1a91463b4" x="997.24" y="438.26" style="stroke: #000000; stroke-width: 3.5"/>
</g>
</g>
<g id="text_25">
<text style="font-size: 28.4px; font-family: 'DejaVu Serif', serif; text-anchor: end" x="980.94" y="447.650" transform="rotate(-0 980.94 447.650)">2</text>
</g>
</g>
<g id="ytick_10">
<g id="line2d_32">
<g>
<use href="#ma1a91463b4" x="997.24" y="353.58" style="stroke: #000000; stroke-width: 3.5"/>
</g>
</g>
<g id="text_26">
<text style="font-size: 28.4px; font-family: 'DejaVu Serif', serif; text-anchor: end" x="980.94" y="362.970" transform="rotate(-0 980.94 362.970)">4</text>
</g>
</g>
<g id="ytick_11">
<g id="line2d_33">
<g>
<use href="#ma1a91463b4" x="997.24" y="268.9" style="stroke: #000000; stroke-width: 3.5"/>
</g>
</g>
<g id="text_27">
<text style="font-size: 28.4px; font-family: 'DejaVu Serif', serif; text-anchor: end" x="980.94" y="278.290" transform="rotate(-0 980.94 278.290)">6</text>
</g>
</g>
<g id="ytick_12">
<g id="line2d_34">
<g>
<use href="#ma1a91463b4" x="997.24" y="184.22" style="stroke: #000000; stroke-width: 3.5"/>
</g>
</g>
<g id="text_28">
<text style="font-size: 28.4px; font-family: 'DejaVu Serif', serif; text-anchor: end" x="980.94" y="193.610" transform="rotate(-0 980.94 193.610)">8</text>
</g>
</g>
</g>
<g id="line2d_35">
<path d="M 997.1 168 
L 997.510873 168.461817 
L 997.921745 170.08171 
L 998.5 175 
L 999.565236 304.397203 
L 1000 340 
L 1000.386981 384.171016 
L 1001 400 
L 1001.619599 406.326463 
L 1002.030472 408.712315 
L 1002.3 409.2 
L 1002.441345 409.103787 
L 1002.852217 407.892967 
L 1003.673963 403.108753 
L 1006.139199 388.255528 
L 1006.6 387.4 
L 1006.960944 388.186083 
L 1007.371817 390.486408 
L 1008.193562 396.457734 
L 1009.837053 411.01451 
L 1011.069671 418.977982 
L 1013.124034 438.80187 
L 1014.4 447.4 
L 1015.58927 453.679121 
L 1016.7 458.3 
L 1017.643634 461.236577 
L 1019.287124 465.319798 
L 1020.519742 468.555088 
L 1021.341488 471.292914 
L 1023.806724 480.485929 
L 1024.628469 482.603372 
L 1025.861087 485.258639 
L 1027.093705 487.457756 
L 1029.148069 490.533656 
L 1031.202432 493.212311 
L 1032.845923 494.97987 
L 1034.3 496.2 
L 1037.365522 498.272524 
L 1039.419886 499.439422 
L 1041.474249 500.330341 
L 1043.11774 500.787904 
L 1045.582976 501.115622 
L 1050.102575 501.507065 
L 1053.389557 501.599527 
L 1055.033047 501.446934 
L 1057.498283 500.914318 
L 1059.963519 500.408156 
L 1061.60701 500.310895 
L 1062.428755 500.546954 
L 1063.250501 501.027448 
L 1064.893991 502.382912 
L 1066.537482 503.699621 
L 1067.359227 504.13167 
L 1068.2 504.3 
L 1069.413591 504.158297 
L 1071.878827 503.464017 
L 1073.111445 503.225383 
L 1074.754936 503.234939 
L 1076.809299 503.453306 
L 1079.274535 503.930124 
L 1082.561516 504.81543 
L 1094.887697 508.403054 
L 1101.050787 510.301658 
L 1105.159514 511.767368 
L 1108.446495 513.229797 
L 1118.718312 518.039774 
L 1121.183548 518.877696 
L 1124.059657 519.585556 
L 1129.401001 520.694805 
L 1133.920601 521.420999 
L 1138.029328 521.858636 
L 1143.370672 522.145549 
L 1157.340343 522.773176 
L 1163.092561 523.374844 
L 1169.255651 524.197685 
L 1174.596996 525.253196 
L 1179.527468 526.163484 
L 1182.814449 526.530829 
L 1185.690558 526.6 
L 1214.862518 526.511395 
L 1218.149499 526.185407 
L 1223.079971 525.431934 
L 1230.064807 524.351152 
L 1244.856223 522.712677 
L 1251.019313 522.261118 
L 1261.702003 521.74989 
L 1278.547783 520.906926 
L 1284.3 520.6 
L 1284.3 520.6 
" clip-path="url(#pff42ee27c5)" style="fill: none; stroke: #1f77b4; stroke-width: 2.9; stroke-linecap: square"/>
</g>
<g id="line2d_36">
<path d="M 997.1 168 
L 997.510873 168.461817 
L 997.921745 170.08171 
L 998.5 175 
L 999.565236 304.601853 
L 1000 340 
L 1000.386981 379.06121 
L 1001 395 
L 1001.619599 401.706474 
L 1002.030472 404.272005 
L 1002.3 404.8 
L 1002.441345 404.709099 
L 1002.852217 403.562999 
L 1003.673963 399.005492 
L 1005.728326 386.710118 
L 1006.139199 386.005119 
L 1006.550072 386.595907 
L 1007.371817 389.497716 
L 1007.78269 391.228737 
L 1008.604435 396.124143 
L 1009.42618 402.782903 
L 1012.302289 433.270558 
L 1013.124034 439.111864 
L 1013.94578 443.304045 
L 1015.178398 448.30589 
L 1017.643634 456.85446 
L 1019.697997 463.015103 
L 1022.163233 469.564477 
L 1024.628469 475.648192 
L 1026.27196 479.144602 
L 1027.504578 481.307163 
L 1029.558941 484.262672 
L 1031.613305 486.775042 
L 1033.667668 488.954695 
L 1036.954649 492.044785 
L 1040.652504 495.275659 
L 1043.11774 497.108676 
L 1045.172103 498.316488 
L 1046.815594 499.015615 
L 1049.28083 499.778028 
L 1052.567811 500.5414 
L 1057.909156 501.76172 
L 1066.948355 504.306102 
L 1072.2897 505.68922 
L 1081.739771 507.982738 
L 1084.61588 508.93296 
L 1087.491989 510.149453 
L 1092.011588 512.365563 
L 1096.94206 514.747212 
L 1105.570386 518.405137 
L 1109.679113 519.974957 
L 1112.966094 520.99271 
L 1116.663948 521.848757 
L 1122.005293 522.890283 
L 1126.935765 523.628301 
L 1131.455365 524.079208 
L 1142.548927 524.882137 
L 1149.533763 525.162605 
L 1156.518598 525.2 
L 1175.418741 525.105281 
L 1181.581831 524.729823 
L 1198.016738 523.590042 
L 1231.708298 522.001234 
L 1245.267096 522.141406 
L 1254.306295 522.397738 
L 1266.221602 522.895999 
L 1282.656509 522.9 
L 1284.3 522.9 
L 1284.3 522.9 
" clip-path="url(#pff42ee27c5)" style="fill: none; stroke-dasharray: 10.73,4.64; stroke-dashoffset: 0; stroke: #ff7f0e; stroke-width: 2.9"/>
</g>
<g id="line2d_37">
<path d="M 997.1 168 
L 997.510873 168.461817 
L 997.921745 170.08171 
L 998.5 175 
L 999.565236 304.839915 
L 1000.386981 373.907345 
L 1001 390 
L 1001.619599 398.126773 
L 1002.030472 399.994027 
L 1002.441345 398.886567 
L 1003.26309 393.165024 
L 1004.084835 387.565264 
L 1005.728326 378.987837 
L 1006.139199 377.911405 
L 1006.4 377.7 
L 1006.550072 377.842609 
L 1006.960944 379.422739 
L 1008.193562 387.860422 
L 1009.837053 401.415796 
L 1014.4 432 
L 1015.58927 437.594408 
L 1016.821888 442.42569 
L 1018.465379 447.978984 
L 1020.10887 452.706976 
L 1023.395851 461.836044 
L 1025.039342 466.431322 
L 1026.27196 469.258868 
L 1027.504578 471.491967 
L 1030.791559 477.146035 
L 1033.256795 481.439577 
L 1034.900286 483.857086 
L 1036.132904 485.277574 
L 1038.187268 487.280184 
L 1040.652504 489.318587 
L 1043.939485 491.692136 
L 1053.389557 498.182191 
L 1056.265665 499.807386 
L 1065.304864 504.540871 
L 1069.413591 507.00088 
L 1071.467954 507.92713 
L 1074.344063 508.9089 
L 1083.383262 511.725974 
L 1087.902861 513.609043 
L 1097.352933 517.656371 
L 1105.159514 520.504818 
L 1110.500858 522.260074 
L 1115.020458 523.512408 
L 1124.059657 525.772882 
L 1127.757511 526.421972 
L 1130.633619 526.708448 
L 1140.905436 527.246488 
L 1149.533763 527.478457 
L 1156.107725 527.457064 
L 1161.859943 527.199883 
L 1170.077396 526.580065 
L 1181.581831 525.501258 
L 1189.388412 524.46929 
L 1197.194993 523.241053 
L 1209.932046 520.777892 
L 1212.808155 520.580345 
L 1224.312589 520.253084 
L 1233.351788 520.21476 
L 1243.212732 520.429303 
L 1255.538913 520.900514 
L 1270.741202 521.628456 
L 1284.3 522 
L 1284.3 522 
" clip-path="url(#pff42ee27c5)" style="fill: none; stroke-dasharray: 18.56,4.64,2.9,4.64; stroke-dashoffset: 0; stroke: #2ca02c; stroke-width: 2.9"/>
</g>
<g id="patch_15">
<path d="M 997.24 547.6 
L 997.24 119.95 
" style="fill: none; stroke: #000000; stroke-width: 3.8; stroke-linejoin: miter; stroke-linecap: square"/>
</g>
<g id="patch_16">
<path d="M 1284.44 547.6 
L 1284.44 119.95 
" style="fill: none; stroke: #000000; stroke-width: 3.8; stroke-linejoin: miter; stroke-linecap: square"/>
</g>
<g id="patch_17">
<path d="M 997.24 547.6 
L 1284.44 547.6 
" style="fill: none; stroke: #000000; stroke-width: 3.8; stroke-linejoin: miter; stroke-linecap: square"/>
</g>
<g id="patch_18">
<path d="M 997.24 119.95 
L 1284.44 119.95 
" style="fill: none; stroke: #000000; stroke-width: 3.8; stroke-linejoin: miter; stroke-linecap: square"/>
</g>
<g id="legend_3">
<g id="patch_19">
<path d="M 1066.47 267.727625 
L 1264.56 267.727625 
Q 1270.24 267.727625 1270.24 262.047625 
L 1270.24 139.83 
Q 1270.24 134.15 1264.56 134.15 
L 1066.47 134.15 
Q 1060.79 134.15 1060.79 139.83 
L 1060.79 262.047625 
Q 1060.79 267.727625 1066.47 267.727625 
z
" style="fill: #ffffff; stroke: #000000; stroke-width: 2; stroke-linejoin: miter"/>
</g>
<g id="line2d_38">
<path d="M 1072.15 157.149563 
L 1100.55 157.149563 
L 1128.95 157.149563 
" style="fill: none; stroke: #1f77b4; stroke-width: 2.9; stroke-linecap: square"/>
</g>
<g id="text_29">
<g transform="translate(1133.92 167.089563)">
<text><tspan x="-4.863" y="-0.609" textLength="22.858" lengthAdjust="spacingAndGlyphs" style="font-size: 28.4px; font-family: 'LM Roman 10', 'Latin Modern Roman', 'Latin Modern Math', 'Liberation Serif', serif; font-style: italic">V</tspan><tspan x="16.552" y="4.220" style="font-size: 19.88px; font-family: 'LM Roman 10', 'Latin Modern Roman', 'Latin Modern Math', 'Liberation Serif', serif">2</tspan><tspan x="30.181 33.285 57.601 60.325" y="-0.609" style="font-size: 28.4px; font-family: 'LM Roman 10', 'Latin Modern Roman', 'Latin Modern Math', 'Liberation Serif', serif"> = 0</tspan></text>
</g>
</g>
<g id="line2d_39">
<path d="M 1072.15 198.835438 
L 1100.55 198.835438 
L 1128.95 198.835438 
" style="fill: none; stroke-dasharray: 10.73,4.64; stroke-dashoffset: 0; stroke: #ff7f0e; stroke-width: 2.9"/>
</g>
<g id="text_30">
<g transform="translate(1133.92 208.775438)">
<text><tspan x="-4.863" y="-0.609" textLength="22.858" lengthAdjust="spacingAndGlyphs" style="font-size: 28.4px; font-family: 'LM Roman 10', 'Latin Modern Roman', 'Latin Modern Math', 'Liberation Serif', serif; font-style: italic">V</tspan><tspan x="16.552" y="4.220" style="font-size: 19.88px; font-family: 'LM Roman 10', 'Latin Modern Roman', 'Latin Modern Math', 'Liberation Serif', serif">2</tspan><tspan x="30.181 33.285 57.601 60.325 74.521 82.381" y="-0.609" style="font-size: 28.4px; font-family: 'LM Roman 10', 'Latin Modern Roman', 'Latin Modern Math', 'Liberation Serif', serif"> = 0.1</tspan><tspan x="91.713" y="-0.609" textLength="22.858" lengthAdjust="spacingAndGlyphs" style="font-size: 28.4px; font-family: 'LM Roman 10', 'Latin Modern Roman', 'Latin Modern Math', 'Liberation Serif', serif; font-style: italic">V</tspan><tspan x="113.128" y="4.220" style="font-size: 19.88px; font-family: 'LM Roman 10', 'Latin Modern Roman', 'Latin Modern Math', 'Liberation Serif', serif">1</tspan></text>
</g>
</g>
<g id="line2d_40">
<path d="M 1072.15 240.521313 
L 1100.55 240.521313 
L 1128.95 240.521313 
" style="fill: none; stroke-dasharray: 18.56,4.64,2.9,4.64; stroke-dashoffset: 0; stroke: #2ca02c; stroke-width: 2.9"/>
</g>
<g id="text_31">
<g transform="translate(1133.92 250.461313)">
<text><tspan x="-4.863" y="-0.609" textLength="22.858" lengthAdjust="spacingAndGlyphs" style="font-size: 28.4px; font-family: 'LM Roman 10', 'Latin Modern Roman', 'Latin Modern Math', 'Liberation Serif', serif; font-style: italic">V</tspan><tspan x="16.552" y="4.220" style="font-size: 19.88px; font-family: 'LM Roman 10', 'Latin Modern Roman', 'Latin Modern Math', 'Liberation Serif', serif">2</tspan><tspan x="30.181 33.285 57.601 60.325 74.521 82.381" y="-0.609" style="font-size: 28.4px; font-family: 'LM Roman 10', 'Latin Modern Roman', 'Latin Modern Math', 'Liberation Serif', serif"> = 0.2</tspan><tspan x="91.713" y="-0.609" textLength="22.858" lengthAdjust="spacingAndGlyphs" style="font-size: 28.4px; font-family: 'LM Roman 10', 'Latin Modern Roman', 'Latin Modern Math', 'Liberation Serif', serif; font-style: italic">V</tspan><tspan x="113.128" y="4.220" style="font-size: 19.88px; font-family: 'LM Roman 10', 'Latin Modern Roman', 'Latin Modern Math', 'Liberation Serif', serif">1</tspan></text>
</g>
</g>
</g>
</g>
<g id="axes_4">
<g id="patch_20">
<path d="M 1428.31 547.6 
L 1715.51 547.6 
L 1715.51 119.95 
L 1428.31 119.95 
z
" style="fill: #ffffff"/>
</g>
<g id="matplotlib.axis_7">
<g id="xtick_11">
<g id="line2d_41">
<g>
<use href="#m4d94d78a84" x="1428.31" y="547.6" style="stroke: #000000; stroke-width: 3.5"/>
</g>
</g>
<g id="text_32">
<text style="font-size: 28.4px; font-family: 'DejaVu Serif', serif; text-anchor: middle" x="1428.31" y="585.479563" transform="rotate(-0 1428.31 585.479563)">0</text>
</g>
</g>
<g id="xtick_12">
<g id="line2d_42">
<g>
<use href="#m4d94d78a84" x="1524.043333" y="547.6" style="stroke: #000000; stroke-width: 3.5"/>
</g>
</g>
<g id="text_33">
<text style="font-size: 28.4px; font-family: 'DejaVu Serif', serif; text-anchor: middle" x="1524.043333" y="585.479563" transform="rotate(-0 1524.043333 585.479563)">1000</text>
</g>
</g>
<g id="xtick_13">
<g id="line2d_43">
<g>
<use href="#m4d94d78a84" x="1619.776667" y="547.6" style="stroke: #000000; stroke-width: 3.5"/>
</g>
</g>
<g id="text_34">
<text style="font-size: 28.4px; font-family: 'DejaVu Serif', serif; text-anchor: middle" x="1619.776667" y="585.479563" transform="rotate(-0 1619.776667 585.479563)">2000</text>
</g>
</g>
<g id="xtick_14">
<g id="line2d_44">
<g>
<use href="#m4d94d78a84" x="1715.51" y="547.6" style="stroke: #000000; stroke-width: 3.5"/>
</g>
</g>
<g id="text_35">
<text style="font-size: 28.4px; font-family: 'DejaVu Serif', serif; text-anchor: middle" x="1715.51" y="585.479563" transform="rotate(-0 1715.51 585.479563)">3000</text>
</g>
</g>
</g>
<g id="matplotlib.axis_8">
<g id="ytick_13">
<g id="line2d_45">
<g>
<use href="#ma1a91463b4" x="1428.31" y="547.6" style="stroke: #000000; stroke-width: 3.5"/>
</g>
</g>
<g id="text_36">
<text style="font-size: 28.4px; font-family: 'DejaVu Serif', serif; text-anchor: end" x="1412.01" y="556.990" transform="rotate(-0 1412.01 556.990)">−0.50</text>
</g>
</g>
<g id="ytick_14">
<g id="line2d_46">
<g>
<use href="#ma1a91463b4" x="1428.31" y="476.325" style="stroke: #000000; stroke-width: 3.5"/>
</g>
</g>
<g id="text_37">
<text style="font-size: 28.4px; font-family: 'DejaVu Serif', serif; text-anchor: end" x="1412.01" y="485.715" transform="rotate(-0 1412.01 485.715)">−0.25</text>
</g>
</g>
<g id="ytick_15">
<g id="line2d_47">
<g>
<use href="#ma1a91463b4" x="1428.31" y="405.05" style="stroke: #000000; stroke-width: 3.5"/>
</g>
</g>
<g id="text_38">
<text style="font-size: 28.4px; font-family: 'DejaVu Serif', serif; text-anchor: end" x="1412.01" y="414.440" transform="rotate(-0 1412.01 414.440)">0.00</text>
</g>
</g>
<g id="ytick_16">
<g id="line2d_48">
<g>
<use href="#ma1a91463b4" x="1428.31" y="333.775" style="stroke: #000000; stroke-width: 3.5"/>
</g>
</g>
<g id="text_39">
<text style="font-size: 28.4px; font-family: 'DejaVu Serif', serif; text-anchor: end" x="1412.01" y="343.165" transform="rotate(-0 1412.01 343.165)">0.25</text>
</g>
</g>
<g id="ytick_17">
<g id="line2d_49">
<g>
<use href="#ma1a91463b4" x="1428.31" y="262.5" style="stroke: #000000; stroke-width: 3.5"/>
</g>
</g>
<g id="text_40">
<text style="font-size: 28.4px; font-family: 'DejaVu Serif', serif; text-anchor: end" x="1412.01" y="271.890" transform="rotate(-0 1412.01 271.890)">0.50</text>
</g>
</g>
<g id="ytick_18">
<g id="line2d_50">
<g>
<use href="#ma1a91463b4" x="1428.31" y="191.225" style="stroke: #000000; stroke-width: 3.5"/>
</g>
</g>
<g id="text_41">
<text style="font-size: 28.4px; font-family: 'DejaVu Serif', serif; text-anchor: end" x="1412.01" y="200.615" transform="rotate(-0 1412.01 200.615)">0.75</text>
</g>
</g>
<g id="ytick_19">
<g id="line2d_51">
<g>
<use href="#ma1a91463b4" x="1428.31" y="119.95" style="stroke: #000000; stroke-width: 3.5"/>
</g>
</g>
<g id="text_42">
<text style="font-size: 28.4px; font-family: 'DejaVu Serif', serif; text-anchor: end" x="1412.01" y="129.340" transform="rotate(-0 1412.01 129.340)">1.00</text>
</g>
</g>
</g>
<g id="line2d_52">
<path d="M 1436.628205 -1 
L 1438.8 120 
L 1441.7 300 
L 1443.6 369.7 
L 1445.9 439.3 
L 1447.1 492.8 
L 1452.4 513.7 
L 1457.5 467.2 
L 1462.2 430 
L 1465 423.1 
L 1471.4 451 
L 1478.4 467.2 
L 1491.2 428.9 
L 1494.7 430 
L 1501.6 453.3 
L 1508.6 474.2 
L 1515.6 478.8 
L 1525.172675 469.146834 
L 1527.081402 466.449898 
L 1529.262804 462.924325 
L 1531.716881 458.466009 
L 1534.443634 453.003607 
L 1537.170386 447.07999 
L 1539.079113 442.272857 
L 1541.53319 435.389521 
L 1548.622747 414.501985 
L 1551.622175 405.169837 
L 1552.985551 401.555574 
L 1554.076252 399.183741 
L 1555.1 397.5 
L 1558.166381 393.512267 
L 1559.802432 391.691287 
L 1561.165808 390.456781 
L 1562.256509 389.707351 
L 1563.34721 389.210426 
L 1564.437911 389.003661 
L 1566.073963 389.059224 
L 1568.255365 389.333896 
L 1570.982117 389.902225 
L 1574.526896 390.854244 
L 1576.162947 391.53764 
L 1578.344349 392.72643 
L 1582.707153 395.481188 
L 1584.61588 396.76448 
L 1591.432761 401.710916 
L 1594.977539 403.45579 
L 1598.249642 404.93066 
L 1600.431044 405.679145 
L 1602.339771 406.087127 
L 1603.975823 406.199769 
L 1605.611874 406.091314 
L 1607.793276 405.701642 
L 1611.065379 404.836094 
L 1614.8 403.9 
L 1619.245637 402.934025 
L 1626.335193 401.384689 
L 1629.607296 400.901226 
L 1632.334049 400.710427 
L 1635.606152 400.740921 
L 1640.241631 400.995966 
L 1646.8 401.6 
L 1649.239914 401.968251 
L 1652.239342 402.663563 
L 1661.5103 405.001416 
L 1672.689986 407.204509 
L 1675.689413 407.470146 
L 1678.416166 407.477807 
L 1681.960944 407.262686 
L 1687.9598 406.631074 
L 1693.413305 406.135163 
L 1709.501144 405.108071 
L 1715.5 404.8 
L 1715.5 404.8 
" clip-path="url(#pb9c036f7d7)" style="fill: none; stroke: #1f77b4; stroke-width: 2.9; stroke-linecap: square"/>
</g>
<g id="line2d_53">
<path d="M 1436.786838 -1 
L 1439 120 
L 1441.9 300 
L 1443.7 369.7 
L 1445.9 439.3 
L 1447 490 
L 1452.4 512.5 
L 1459.8 448.6 
L 1465 416.1 
L 1470.3 444 
L 1477.3 471.9 
L 1485.4 448.6 
L 1492.3 433.5 
L 1501.6 457.9 
L 1514.4 483.5 
L 1524.156652 458.618994 
L 1539.618741 421.240523 
L 1543.484263 411.782519 
L 1545.969242 406.296072 
L 1547.902003 402.552121 
L 1550.386981 397.945556 
L 1554.252504 390.702984 
L 1555.909156 388.050663 
L 1557.2897 386.23841 
L 1558.394134 385.124141 
L 1559.498569 384.365915 
L 1560.326896 384.062989 
L 1561.155222 384.00038 
L 1565.84907 384.125119 
L 1567.781831 384.276242 
L 1568.610157 384.621791 
L 1569.438484 385.206591 
L 1570.542918 386.294321 
L 1571.923462 388.025216 
L 1574.132332 391.247401 
L 1576.61731 394.766984 
L 1577.997854 396.321146 
L 1583.520029 401.307975 
L 1584.624464 401.835968 
L 1585.6 402 
L 1598.153791 401.914589 
L 1600.362661 401.567659 
L 1607.541488 400.227198 
L 1610.026466 400.2 
L 1625.212446 400.280115 
L 1626.869099 400.612961 
L 1628.80186 401.240206 
L 1632.391273 402.715639 
L 1635.152361 403.745503 
L 1637.085122 404.215532 
L 1639.5701 404.49596 
L 1645.920601 405.024932 
L 1650.614449 405.196037 
L 1656.136624 405.133479 
L 1673.255365 404.8 
L 1715.5 404.8 
L 1715.5 404.8 
" clip-path="url(#pb9c036f7d7)" style="fill: none; stroke-dasharray: 10.73,4.64; stroke-dashoffset: 0; stroke: #ff7f0e; stroke-width: 2.9"/>
</g>
<g id="line2d_54">
<path d="M 1436.628205 -1 
L 1438.8 120 
L 1441.7 300 
L 1443.6 369.7 
L 1445.9 439.3 
L 1447.1 490.4 
L 1451 499.7 
L 1457.5 444 
L 1462.2 411.5 
L 1466.8 410.3 
L 1471.4 444 
L 1478.4 464.9 
L 1485.4 444 
L 1492.3 430 
L 1501.6 455.6 
L 1511 476.5 
L 1517.9 471.9 
L 1532.587697 435.390945 
L 1537.167239 424.769526 
L 1542.016166 414.103604 
L 1548.750787 399.457454 
L 1550.636481 396.001478 
L 1552.25279 393.501426 
L 1556.562947 387.798947 
L 1557.909871 386.34696 
L 1558.987411 385.472674 
L 1559.795565 385.034251 
L 1560.60372 384.817574 
L 1561.681259 384.85661 
L 1563.028183 385.188289 
L 1564.644492 385.883989 
L 1566.799571 387.100035 
L 1568.146495 388.030178 
L 1569.224034 389.125769 
L 1570.840343 391.143643 
L 1573.534192 394.524465 
L 1575.419886 396.680711 
L 1579.191273 401.22636 
L 1580.538197 402.442912 
L 1581.615737 403.09913 
L 1582.423891 403.356806 
L 1583.501431 403.4 
L 1590.774821 403.303375 
L 1592.660515 402.961685 
L 1600.20329 401.319576 
L 1606.668526 400.39665 
L 1609.63176 400.207463 
L 1612.325608 400.270463 
L 1615.288841 400.579514 
L 1619.868383 401.323727 
L 1639.533476 404.677379 
L 1642.3 404.8 
L 1665.93319 404.69395 
L 1680.479971 404.300048 
L 1700.953219 404.409972 
L 1712.806152 404.697781 
L 1715.5 404.8 
L 1715.5 404.8 
" clip-path="url(#pb9c036f7d7)" style="fill: none; stroke-dasharray: 18.56,4.64,2.9,4.64; stroke-dashoffset: 0; stroke: #2ca02c; stroke-width: 2.9"/>
</g>
<g id="patch_21">
<path d="M 1428.31 547.6 
L 1428.31 119.95 
" style="fill: none; stroke: #000000; stroke-width: 3.8; stroke-linejoin: miter; stroke-linecap: square"/>
</g>
<g id="patch_22">
<path d="M 1715.51 547.6 
L 1715.51 119.95 
" style="fill: none; stroke: #000000; stroke-width: 3.8; stroke-linejoin: miter; stroke-linecap: square"/>
</g>
<g id="patch_23">
<path d="M 1428.31 547.6 
L 1715.51 547.6 
" style="fill: none; stroke: #000000; stroke-width: 3.8; stroke-linejoin: miter; stroke-linecap: square"/>
</g>
<g id="patch_24">
<path d="M 1428.31 119.95 
L 1715.51 119.95 
" style="fill: none; stroke: #000000; stroke-width: 3.8; stroke-linejoin: miter; stroke-linecap: square"/>
</g>
<g id="legend_4">
<g id="patch_25">
<path d="M 1497.54 267.727625 
L 1695.63 267.727625 
Q 1701.31 267.727625 1701.31 262.047625 
L 1701.31 139.83 
Q 1701.31 134.15 1695.63 134.15 
L 1497.54 134.15 
Q 1491.86 134.15 1491.86 139.83 
L 1491.86 262.047625 
Q 1491.86 267.727625 1497.54 267.727625 
z
" style="fill: #ffffff; stroke: #000000; stroke-width: 2; stroke-linejoin: miter"/>
</g>
<g id="line2d_55">
<path d="M 1503.22 157.149563 
L 1531.62 157.149563 
L 1560.02 157.149563 
" style="fill: none; stroke: #1f77b4; stroke-width: 2.9; stroke-linecap: square"/>
</g>
<g id="text_43">
<g transform="translate(1564.99 167.089563)">
<text><tspan x="-4.863" y="-0.609" textLength="22.858" lengthAdjust="spacingAndGlyphs" style="font-size: 28.4px; font-family: 'LM Roman 10', 'Latin Modern Roman', 'Latin Modern Math', 'Liberation Serif', serif; font-style: italic">V</tspan><tspan x="16.552" y="4.220" style="font-size: 19.88px; font-family: 'LM Roman 10', 'Latin Modern Roman', 'Latin Modern Math', 'Liberation Serif', serif">2</tspan><tspan x="30.181 33.285 57.601 60.325" y="-0.609" style="font-size: 28.4px; font-family: 'LM Roman 10', 'Latin Modern Roman', 'Latin Modern Math', 'Liberation Serif', serif"> = 0</tspan></text>
</g>
</g>
<g id="line2d_56">
<path d="M 1503.22 198.835438 
L 1531.62 198.835438 
L 1560.02 198.835438 
" style="fill: none; stroke-dasharray: 10.73,4.64; stroke-dashoffset: 0; stroke: #ff7f0e; stroke-width: 2.9"/>
</g>
<g id="text_44">
<g transform="translate(1564.99 208.775438)">
<text><tspan x="-4.863" y="-0.609" textLength="22.858" lengthAdjust="spacingAndGlyphs" style="font-size: 28.4px; font-family: 'LM Roman 10', 'Latin Modern Roman', 'Latin Modern Math', 'Liberation Serif', serif; font-style: italic">V</tspan><tspan x="16.552" y="4.220" style="font-size: 19.88px; font-family: 'LM Roman 10', 'Latin Modern Roman', 'Latin Modern Math', 'Liberation Serif', serif">2</tspan><tspan x="30.181 33.285 57.601 60.325 74.521 82.381" y="-0.609" style="font-size: 28.4px; font-family: 'LM Roman 10', 'Latin Modern Roman', 'Latin Modern Math', 'Liberation Serif', serif"> = 0.1</tspan><tspan x="91.713" y="-0.609" textLength="22.858" lengthAdjust="spacingAndGlyphs" style="font-size: 28.4px; font-family: 'LM Roman 10', 'Latin Modern Roman', 'Latin Modern Math', 'Liberation Serif', serif; font-style: italic">V</tspan><tspan x="113.128" y="4.220" style="font-size: 19.88px; font-family: 'LM Roman 10', 'Latin Modern Roman', 'Latin Modern Math', 'Liberation Serif', serif">1</tspan></text>
</g>
</g>
<g id="line2d_57">
<path d="M 1503.22 240.521313 
L 1531.62 240.521313 
L 1560.02 240.521313 
" style="fill: none; stroke-dasharray: 18.56,4.64,2.9,4.64; stroke-dashoffset: 0; stroke: #2ca02c; stroke-width: 2.9"/>
</g>
<g id="text_45">
<g transform="translate(1564.99 250.461313)">
<text><tspan x="-4.863" y="-0.609" textLength="22.858" lengthAdjust="spacingAndGlyphs" style="font-size: 28.4px; font-family: 'LM Roman 10', 'Latin Modern Roman', 'Latin Modern Math', 'Liberation Serif', serif; font-style: italic">V</tspan><tspan x="16.552" y="4.220" style="font-size: 19.88px; font-family: 'LM Roman 10', 'Latin Modern Roman', 'Latin Modern Math', 'Liberation Serif', serif">2</tspan><tspan x="30.181 33.285 57.601 60.325 74.521 82.381" y="-0.609" style="font-size: 28.4px; font-family: 'LM Roman 10', 'Latin Modern Roman', 'Latin Modern Math', 'Liberation Serif', serif"> = 0.2</tspan><tspan x="91.713" y="-0.609" textLength="22.858" lengthAdjust="spacingAndGlyphs" style="font-size: 28.4px; font-family: 'LM Roman 10', 'Latin Modern Roman', 'Latin Modern Math', 'Liberation Serif', serif; font-style: italic">V</tspan><tspan x="113.128" y="4.220" style="font-size: 19.88px; font-family: 'LM Roman 10', 'Latin Modern Roman', 'Latin Modern Math', 'Liberation Serif', serif">1</tspan></text>
</g>
</g>
</g>
</g>
<g id="axes_5">
<g id="patch_26">
<path d="M 135.1 940.95 
L 422.3 940.95 
L 422.3 684.7 
L 135.1 684.7 
z
" style="fill: #ffffff"/>
</g>
<g id="matplotlib.axis_9">
<g id="xtick_15">
<g id="line2d_58">
<g>
<use href="#m4d94d78a84" x="148.154545" y="940.95" style="stroke: #000000; stroke-width: 3.5"/>
</g>
</g>
<g id="text_46">
<text style="font-size: 28.4px; font-family: 'DejaVu Serif', serif; text-anchor: middle" x="148.154545" y="978.829563" transform="rotate(-0 148.154545 978.829563)">0.0</text>
</g>
</g>
<g id="xtick_16">
<g id="line2d_59">
<g>
<use href="#m4d94d78a84" x="278.7" y="940.95" style="stroke: #000000; stroke-width: 3.5"/>
</g>
</g>
<g id="text_47">
<text style="font-size: 28.4px; font-family: 'DejaVu Serif', serif; text-anchor: middle" x="278.7" y="978.829563" transform="rotate(-0 278.7 978.829563)">0.1</text>
</g>
</g>
<g id="xtick_17">
<g id="line2d_60">
<g>
<use href="#m4d94d78a84" x="409.245455" y="940.95" style="stroke: #000000; stroke-width: 3.5"/>
</g>
</g>
<g id="text_48">
<text style="font-size: 28.4px; font-family: 'DejaVu Serif', serif; text-anchor: middle" x="409.245455" y="978.829563" transform="rotate(-0 409.245455 978.829563)">0.2</text>
</g>
</g>
</g>
<g id="matplotlib.axis_10">
<g id="ytick_20">
<g id="line2d_61">
<g>
<use href="#ma1a91463b4" x="135.1" y="915.841931" style="stroke: #000000; stroke-width: 3.5"/>
</g>
</g>
<g id="text_49">
<text style="font-size: 28.4px; font-family: 'DejaVu Serif', serif; text-anchor: end" x="118.8" y="925.232" transform="rotate(-0 118.8 925.232)">1.50</text>
</g>
</g>
<g id="ytick_21">
<g id="line2d_62">
<g>
<use href="#ma1a91463b4" x="135.1" y="847.464836" style="stroke: #000000; stroke-width: 3.5"/>
</g>
</g>
<g id="text_50">
<text style="font-size: 28.4px; font-family: 'DejaVu Serif', serif; text-anchor: end" x="118.8" y="856.855" transform="rotate(-0 118.8 856.855)">1.75</text>
</g>
</g>
<g id="ytick_22">
<g id="line2d_63">
<g>
<use href="#ma1a91463b4" x="135.1" y="779.087741" style="stroke: #000000; stroke-width: 3.5"/>
</g>
</g>
<g id="text_51">
<text style="font-size: 28.4px; font-family: 'DejaVu Serif', serif; text-anchor: end" x="118.8" y="788.478" transform="rotate(-0 118.8 788.478)">2.00</text>
</g>
</g>
<g id="ytick_23">
<g id="line2d_64">
<g>
<use href="#ma1a91463b4" x="135.1" y="710.710647" style="stroke: #000000; stroke-width: 3.5"/>
</g>
</g>
<g id="text_52">
<text style="font-size: 28.4px; font-family: 'DejaVu Serif', serif; text-anchor: end" x="118.8" y="720.100" transform="rotate(-0 118.8 720.100)">2.25</text>
</g>
</g>
</g>
<g id="line2d_65">
<path d="M 148.154545 813.139535 
L 213.427273 812.783974 
L 278.7 812.729272 
L 343.972727 812.64722 
L 409.245455 812.565167 
" clip-path="url(#p1c688ab38d)" style="fill: none; stroke: #00bfbf; stroke-width: 2.8; stroke-linecap: square"/>
<defs>
<path id="m823c1fa6ff" d="M -6.75 6.75 
L 6.75 6.75 
L 6.75 -6.75 
L -6.75 -6.75 
z
"/>
</defs>
<g clip-path="url(#p1c688ab38d)">
<use href="#m823c1fa6ff" x="148.154545" y="813.139535" style="fill: #00bfbf"/>
<use href="#m823c1fa6ff" x="213.427273" y="812.783974" style="fill: #00bfbf"/>
<use href="#m823c1fa6ff" x="278.7" y="812.729272" style="fill: #00bfbf"/>
<use href="#m823c1fa6ff" x="343.972727" y="812.64722" style="fill: #00bfbf"/>
<use href="#m823c1fa6ff" x="409.245455" y="812.565167" style="fill: #00bfbf"/>
</g>
</g>
<g id="patch_27">
<path d="M 135.1 940.95 
L 135.1 684.7 
" style="fill: none; stroke: #000000; stroke-width: 3.8; stroke-linejoin: miter; stroke-linecap: square"/>
</g>
<g id="patch_28">
<path d="M 422.3 940.95 
L 422.3 684.7 
" style="fill: none; stroke: #000000; stroke-width: 3.8; stroke-linejoin: miter; stroke-linecap: square"/>
</g>
<g id="patch_29">
<path d="M 135.1 940.95 
L 422.3 940.95 
" style="fill: none; stroke: #000000; stroke-width: 3.8; stroke-linejoin: miter; stroke-linecap: square"/>
</g>
<g id="patch_30">
<path d="M 135.1 684.7 
L 422.3 684.7 
" style="fill: none; stroke: #000000; stroke-width: 3.8; stroke-linejoin: miter; stroke-linecap: square"/>
</g>
</g>
<g id="axes_6">
<g id="patch_31">
<path d="M 566.17 940.95 
L 853.37 940.95 
L 853.37 684.7 
L 566.17 684.7 
z
" style="fill: #ffffff"/>
</g>
<g id="matplotlib.axis_11">
<g id="xtick_18">
<g id="line2d_66">
<g>
<use href="#m4d94d78a84" x="579.224545" y="940.95" style="stroke: #000000; stroke-width: 3.5"/>
</g>
</g>
<g id="text_53">
<text style="font-size: 28.4px; font-family: 'DejaVu Serif', serif; text-anchor: middle" x="579.224545" y="978.829563" transform="rotate(-0 579.224545 978.829563)">0.0</text>
</g>
</g>
<g id="xtick_19">
<g id="line2d_67">
<g>
<use href="#m4d94d78a84" x="709.77" y="940.95" style="stroke: #000000; stroke-width: 3.5"/>
</g>
</g>
<g id="text_54">
<text style="font-size: 28.4px; font-family: 'DejaVu Serif', serif; text-anchor: middle" x="709.77" y="978.829563" transform="rotate(-0 709.77 978.829563)">0.1</text>
</g>
</g>
<g id="xtick_20">
<g id="line2d_68">
<g>
<use href="#m4d94d78a84" x="840.315455" y="940.95" style="stroke: #000000; stroke-width: 3.5"/>
</g>
</g>
<g id="text_55">
<text style="font-size: 28.4px; font-family: 'DejaVu Serif', serif; text-anchor: middle" x="840.315455" y="978.829563" transform="rotate(-0 840.315455 978.829563)">0.2</text>
</g>
</g>
</g>
<g id="matplotlib.axis_12">
<g id="ytick_24">
<g id="line2d_69">
<g>
<use href="#ma1a91463b4" x="566.17" y="876.296846" style="stroke: #000000; stroke-width: 3.5"/>
</g>
</g>
<g id="text_56">
<text style="font-size: 28.4px; font-family: 'DejaVu Serif', serif; text-anchor: end" x="549.87" y="885.687" transform="rotate(-0 549.87 885.687)">1.2</text>
</g>
</g>
<g id="ytick_25">
<g id="line2d_70">
<g>
<use href="#ma1a91463b4" x="566.17" y="801.293187" style="stroke: #000000; stroke-width: 3.5"/>
</g>
</g>
<g id="text_57">
<text style="font-size: 28.4px; font-family: 'DejaVu Serif', serif; text-anchor: end" x="549.87" y="810.683" transform="rotate(-0 549.87 810.683)">1.4</text>
</g>
</g>
<g id="ytick_26">
<g id="line2d_71">
<g>
<use href="#ma1a91463b4" x="566.17" y="726.289529" style="stroke: #000000; stroke-width: 3.5"/>
</g>
</g>
<g id="text_58">
<text style="font-size: 28.4px; font-family: 'DejaVu Serif', serif; text-anchor: end" x="549.87" y="735.679" transform="rotate(-0 549.87 735.679)">1.6</text>
</g>
</g>
</g>
<g id="line2d_72">
<path d="M 579.224545 809.656095 
L 644.497273 809.506088 
L 709.77 807.480989 
L 775.042727 817.681487 
L 840.315455 819.406571 
" clip-path="url(#p7455542241)" style="fill: none; stroke: #00bfbf; stroke-width: 2.8; stroke-linecap: square"/>
<g clip-path="url(#p7455542241)">
<use href="#m823c1fa6ff" x="579.224545" y="809.656095" style="fill: #00bfbf"/>
<use href="#m823c1fa6ff" x="644.497273" y="809.506088" style="fill: #00bfbf"/>
<use href="#m823c1fa6ff" x="709.77" y="807.480989" style="fill: #00bfbf"/>
<use href="#m823c1fa6ff" x="775.042727" y="817.681487" style="fill: #00bfbf"/>
<use href="#m823c1fa6ff" x="840.315455" y="819.406571" style="fill: #00bfbf"/>
</g>
</g>
<g id="patch_32">
<path d="M 566.17 940.95 
L 566.17 684.7 
" style="fill: none; stroke: #000000; stroke-width: 3.8; stroke-linejoin: miter; stroke-linecap: square"/>
</g>
<g id="patch_33">
<path d="M 853.37 940.95 
L 853.37 684.7 
" style="fill: none; stroke: #000000; stroke-width: 3.8; stroke-linejoin: miter; stroke-linecap: square"/>
</g>
<g id="patch_34">
<path d="M 566.17 940.95 
L 853.37 940.95 
" style="fill: none; stroke: #000000; stroke-width: 3.8; stroke-linejoin: miter; stroke-linecap: square"/>
</g>
<g id="patch_35">
<path d="M 566.17 684.7 
L 853.37 684.7 
" style="fill: none; stroke: #000000; stroke-width: 3.8; stroke-linejoin: miter; stroke-linecap: square"/>
</g>
</g>
<g id="axes_7">
<g id="patch_36">
<path d="M 997.24 940.95 
L 1284.44 940.95 
L 1284.44 684.7 
L 997.24 684.7 
z
" style="fill: #ffffff"/>
</g>
<g id="matplotlib.axis_13">
<g id="xtick_21">
<g id="line2d_73">
<g>
<use href="#m4d94d78a84" x="1010.294545" y="940.95" style="stroke: #000000; stroke-width: 3.5"/>
</g>
</g>
<g id="text_59">
<text style="font-size: 28.4px; font-family: 'DejaVu Serif', serif; text-anchor: middle" x="1010.294545" y="978.829563" transform="rotate(-0 1010.294545 978.829563)">0.0</text>
</g>
</g>
<g id="xtick_22">
<g id="line2d_74">
<g>
<use href="#m4d94d78a84" x="1140.84" y="940.95" style="stroke: #000000; stroke-width: 3.5"/>
</g>
</g>
<g id="text_60">
<text style="font-size: 28.4px; font-family: 'DejaVu Serif', serif; text-anchor: middle" x="1140.84" y="978.829563" transform="rotate(-0 1140.84 978.829563)">0.1</text>
</g>
</g>
<g id="xtick_23">
<g id="line2d_75">
<g>
<use href="#m4d94d78a84" x="1271.385455" y="940.95" style="stroke: #000000; stroke-width: 3.5"/>
</g>
</g>
<g id="text_61">
<text style="font-size: 28.4px; font-family: 'DejaVu Serif', serif; text-anchor: middle" x="1271.385455" y="978.829563" transform="rotate(-0 1271.385455 978.829563)">0.2</text>
</g>
</g>
</g>
<g id="matplotlib.axis_14">
<g id="ytick_27">
<g id="line2d_76">
<g>
<use href="#ma1a91463b4" x="997.24" y="874.601771" style="stroke: #000000; stroke-width: 3.5"/>
</g>
</g>
<g id="text_62">
<text style="font-size: 28.4px; font-family: 'DejaVu Serif', serif; text-anchor: end" x="980.94" y="883.992" transform="rotate(-0 980.94 883.992)">6</text>
</g>
</g>
<g id="ytick_28">
<g id="line2d_77">
<g>
<use href="#ma1a91463b4" x="997.24" y="799.351426" style="stroke: #000000; stroke-width: 3.5"/>
</g>
</g>
<g id="text_63">
<text style="font-size: 28.4px; font-family: 'DejaVu Serif', serif; text-anchor: end" x="980.94" y="808.741" transform="rotate(-0 980.94 808.741)">7</text>
</g>
</g>
<g id="ytick_29">
<g id="line2d_78">
<g>
<use href="#ma1a91463b4" x="997.24" y="724.101081" style="stroke: #000000; stroke-width: 3.5"/>
</g>
</g>
<g id="text_64">
<text style="font-size: 28.4px; font-family: 'DejaVu Serif', serif; text-anchor: end" x="980.94" y="733.491" transform="rotate(-0 980.94 733.491)">8</text>
</g>
</g>
</g>
<g id="line2d_79">
<path d="M 1010.294545 824.033539 
L 1075.567273 820.271022 
L 1140.84 816.132253 
L 1206.112727 813.34799 
L 1271.385455 790.170884 
" clip-path="url(#p06acb42d05)" style="fill: none; stroke: #00bfbf; stroke-width: 2.8; stroke-linecap: square"/>
<g clip-path="url(#p06acb42d05)">
<use href="#m823c1fa6ff" x="1010.294545" y="824.033539" style="fill: #00bfbf"/>
<use href="#m823c1fa6ff" x="1075.567273" y="820.271022" style="fill: #00bfbf"/>
<use href="#m823c1fa6ff" x="1140.84" y="816.132253" style="fill: #00bfbf"/>
<use href="#m823c1fa6ff" x="1206.112727" y="813.34799" style="fill: #00bfbf"/>
<use href="#m823c1fa6ff" x="1271.385455" y="790.170884" style="fill: #00bfbf"/>
</g>
</g>
<g id="patch_37">
<path d="M 997.24 940.95 
L 997.24 684.7 
" style="fill: none; stroke: #000000; stroke-width: 3.8; stroke-linejoin: miter; stroke-linecap: square"/>
</g>
<g id="patch_38">
<path d="M 1284.44 940.95 
L 1284.44 684.7 
" style="fill: none; stroke: #000000; stroke-width: 3.8; stroke-linejoin: miter; stroke-linecap: square"/>
</g>
<g id="patch_39">
<path d="M 997.24 940.95 
L 1284.44 940.95 
" style="fill: none; stroke: #000000; stroke-width: 3.8; stroke-linejoin: miter; stroke-linecap: square"/>
</g>
<g id="patch_40">
<path d="M 997.24 684.7 
L 1284.44 684.7 
" style="fill: none; stroke: #000000; stroke-width: 3.8; stroke-linejoin: miter; stroke-linecap: square"/>
</g>
</g>
<g id="axes_8">
<g id="patch_41">
<path d="M 1428.31 940.95 
L 1715.51 940.95 
L 1715.51 684.7 
L 1428.31 684.7 
z
" style="fill: #ffffff"/>
</g>
<g id="matplotlib.axis_15">
<g id="xtick_24">
<g id="line2d_80">
<g>
<use href="#m4d94d78a84" x="1441.364545" y="940.95" style="stroke: #000000; stroke-width: 3.5"/>
</g>
</g>
<g id="text_65">
<text style="font-size: 28.4px; font-family: 'DejaVu Serif', serif; text-anchor: middle" x="1441.364545" y="978.829563" transform="rotate(-0 1441.364545 978.829563)">0.0</text>
</g>
</g>
<g id="xtick_25">
<g id="line2d_81">
<g>
<use href="#m4d94d78a84" x="1571.91" y="940.95" style="stroke: #000000; stroke-width: 3.5"/>
</g>
</g>
<g id="text_66">
<text style="font-size: 28.4px; font-family: 'DejaVu Serif', serif; text-anchor: middle" x="1571.91" y="978.829563" transform="rotate(-0 1571.91 978.829563)">0.1</text>
</g>
</g>
<g id="xtick_26">
<g id="line2d_82">
<g>
<use href="#m4d94d78a84" x="1702.455455" y="940.95" style="stroke: #000000; stroke-width: 3.5"/>
</g>
</g>
<g id="text_67">
<text style="font-size: 28.4px; font-family: 'DejaVu Serif', serif; text-anchor: middle" x="1702.455455" y="978.829563" transform="rotate(-0 1702.455455 978.829563)">0.2</text>
</g>
</g>
</g>
<g id="matplotlib.axis_16">
<g id="ytick_30">
<g id="line2d_83">
<g>
<use href="#ma1a91463b4" x="1428.31" y="907.549461" style="stroke: #000000; stroke-width: 3.5"/>
</g>
</g>
<g id="text_68">
<text style="font-size: 28.4px; font-family: 'DejaVu Serif', serif; text-anchor: end" x="1412.01" y="916.939" transform="rotate(-0 1412.01 916.939)">6</text>
</g>
</g>
<g id="ytick_31">
<g id="line2d_84">
<g>
<use href="#ma1a91463b4" x="1428.31" y="837.732279" style="stroke: #000000; stroke-width: 3.5"/>
</g>
</g>
<g id="text_69">
<text style="font-size: 28.4px; font-family: 'DejaVu Serif', serif; text-anchor: end" x="1412.01" y="847.122" transform="rotate(-0 1412.01 847.122)">7</text>
</g>
</g>
<g id="ytick_32">
<g id="line2d_85">
<g>
<use href="#ma1a91463b4" x="1428.31" y="767.915098" style="stroke: #000000; stroke-width: 3.5"/>
</g>
</g>
<g id="text_70">
<text style="font-size: 28.4px; font-family: 'DejaVu Serif', serif; text-anchor: end" x="1412.01" y="777.305" transform="rotate(-0 1412.01 777.305)">8</text>
</g>
</g>
<g id="ytick_33">
<g id="line2d_86">
<g>
<use href="#ma1a91463b4" x="1428.31" y="698.097917" style="stroke: #000000; stroke-width: 3.5"/>
</g>
</g>
<g id="text_71">
<text style="font-size: 28.4px; font-family: 'DejaVu Serif', serif; text-anchor: end" x="1412.01" y="707.488" transform="rotate(-0 1412.01 707.488)">9</text>
</g>
</g>
</g>
<g id="line2d_87">
<path d="M 1441.364545 909.923245 
L 1506.637273 836.405753 
L 1571.91 806.174913 
L 1637.182727 784.601405 
L 1702.455455 727.00223 
" clip-path="url(#p600947fd62)" style="fill: none; stroke: #00bfbf; stroke-width: 2.8; stroke-linecap: square"/>
<g clip-path="url(#p600947fd62)">
<use href="#m823c1fa6ff" x="1441.364545" y="909.923245" style="fill: #00bfbf"/>
<use href="#m823c1fa6ff" x="1506.637273" y="836.405753" style="fill: #00bfbf"/>
<use href="#m823c1fa6ff" x="1571.91" y="806.174913" style="fill: #00bfbf"/>
<use href="#m823c1fa6ff" x="1637.182727" y="784.601405" style="fill: #00bfbf"/>
<use href="#m823c1fa6ff" x="1702.455455" y="727.00223" style="fill: #00bfbf"/>
</g>
</g>
<g id="patch_42">
<path d="M 1428.31 940.95 
L 1428.31 684.7 
" style="fill: none; stroke: #000000; stroke-width: 3.8; stroke-linejoin: miter; stroke-linecap: square"/>
</g>
<g id="patch_43">
<path d="M 1715.51 940.95 
L 1715.51 684.7 
" style="fill: none; stroke: #000000; stroke-width: 3.8; stroke-linejoin: miter; stroke-linecap: square"/>
</g>
<g id="patch_44">
<path d="M 1428.31 940.95 
L 1715.51 940.95 
" style="fill: none; stroke: #000000; stroke-width: 3.8; stroke-linejoin: miter; stroke-linecap: square"/>
</g>
<g id="patch_45">
<path d="M 1428.31 684.7 
L 1715.51 684.7 
" style="fill: none; stroke: #000000; stroke-width: 3.8; stroke-linejoin: miter; stroke-linecap: square"/>
</g>
</g>
<g id="text_72">
<g transform="translate(210.0025 23.7)">
<text><tspan x="-5.839" y="-0.703" textLength="27.446" lengthAdjust="spacingAndGlyphs" style="font-size: 34.1px; font-family: 'LM Roman 10', 'Latin Modern Roman', 'Latin Modern Math', 'Liberation Serif', serif; font-style: italic">V</tspan><tspan x="19.877" y="5.096" style="font-size: 23.87px; font-family: 'LM Roman 10', 'Latin Modern Roman', 'Latin Modern Math', 'Liberation Serif', serif">1</tspan><tspan x="35.905 39.971 69.352 72.443 94.122 99.467 127.868 143.000" y="-0.703" style="font-size: 34.1px; font-family: 'LM Roman 10', 'Latin Modern Roman', 'Latin Modern Math', 'Liberation Serif', serif"> = 5 meV</tspan></text>
</g>
</g>
<g id="text_73">
<g transform="translate(185.751 63.9)">
<text><tspan x="0.000" y="-0.594" style="font-size: 34.1px; font-family: 'LM Roman 10', 'Latin Modern Roman', 'Latin Modern Math', 'Liberation Serif', serif">Δ</tspan><tspan x="22.562" y="-0.594" textLength="27.446" lengthAdjust="spacingAndGlyphs" style="font-size: 34.1px; font-family: 'LM Roman 10', 'Latin Modern Roman', 'Latin Modern Math', 'Liberation Serif', serif; font-style: italic">V</tspan><tspan x="48.277" y="5.205" style="font-size: 23.87px; font-family: 'LM Roman 10', 'Latin Modern Roman', 'Latin Modern Math', 'Liberation Serif', serif">1</tspan><tspan x="64.305 68.371 97.570 100.843 122.706 127.868 156.268 171.400" y="-0.594" style="font-size: 34.1px; font-family: 'LM Roman 10', 'Latin Modern Roman', 'Latin Modern Math', 'Liberation Serif', serif"> = 0 meV</tspan></text>
</g>
</g>
<g id="text_74">
<g transform="translate(135.1 112.8)">
<text><tspan x="0.000" y="-0.281" style="font-size: 28.4px; font-family: 'Latin Modern Math', 'LM Roman 10', 'DejaVu Serif', serif">×</tspan><tspan x="21.705 22.055 40.108" y="-0.281" style="font-size: 28.4px; font-family: 'DejaVu Serif', serif"> 10</tspan><tspan x="58.416 75.058" y="-10.453" style="font-size: 19.88px; font-family: 'DejaVu Serif', serif">−8</tspan></text>
</g>
</g>
<g id="text_75">
<g transform="translate(209.1745 629.9)">
<text><tspan x="-3.168" y="-0.328" textLength="14.836" lengthAdjust="spacingAndGlyphs" style="font-size: 40.9px; font-family: 'LM Roman 10', 'Latin Modern Roman', 'Latin Modern Math', 'Liberation Serif', serif; font-style: italic">t</tspan><tspan x="22.098 26.721 42.594 63.040 76.863 81.540 104.242 118.604 122.742" y="-0.328" style="font-size: 40.9px; font-family: 'LM Roman 10', 'Latin Modern Roman', 'Latin Modern Math', 'Liberation Serif', serif"> (a. u. )</tspan></text>
</g>
</g>
<g id="text_76">
<g transform="translate(80.7 471.4515) rotate(-90)">
<text><tspan x="-4.493" y="-0.286" textLength="31.363" lengthAdjust="spacingAndGlyphs" style="font-size: 40.9px; font-family: 'LM Roman 10', 'Latin Modern Roman', 'Latin Modern Math', 'Liberation Serif', serif; font-style: italic">C</tspan><tspan x="29.190" y="-0.286" style="font-size: 40.9px; font-family: 'LM Roman 10', 'Latin Modern Roman', 'Latin Modern Math', 'Liberation Serif', serif">(</tspan><tspan x="41.896" y="-0.286" textLength="14.836" lengthAdjust="spacingAndGlyphs" style="font-size: 40.9px; font-family: 'LM Roman 10', 'Latin Modern Roman', 'Latin Modern Math', 'Liberation Serif', serif; font-style: italic">t</tspan><tspan x="59.818 75.692" y="-0.286" style="font-size: 40.9px; font-family: 'LM Roman 10', 'Latin Modern Roman', 'Latin Modern Math', 'Liberation Serif', serif">)/</tspan><tspan x="94.940" y="-0.286" textLength="32.338" lengthAdjust="spacingAndGlyphs" style="font-size: 40.9px; font-family: 'LM Roman 10', 'Latin Modern Roman', 'Latin Modern Math', 'Liberation Serif', serif; font-style: italic">R</tspan><tspan x="131.814" y="-15.936" style="font-size: 28.63px; font-family: 'LM Roman 10', 'Latin Modern Roman', 'Latin Modern Math', 'Liberation Serif', serif">2</tspan><tspan x="154.675 160.700 176.573 197.019 210.842 215.519 238.221 252.583 256.721" y="-0.286" style="font-size: 40.9px; font-family: 'LM Roman 10', 'Latin Modern Roman', 'Latin Modern Math', 'Liberation Serif', serif"> (a. u. )</tspan></text>
</g>
</g>
<g id="text_77">
<text style="font-size: 28.4px; font-family: 'DejaVu Serif', serif; text-anchor: start" x="152.15" y="156.1" transform="rotate(-0 152.15 156.1)">(a)</text>
</g>
<g id="text_78">
<g transform="translate(641.9725 23.7)">
<text><tspan x="-5.839" y="-0.703" textLength="27.446" lengthAdjust="spacingAndGlyphs" style="font-size: 34.1px; font-family: 'LM Roman 10', 'Latin Modern Roman', 'Latin Modern Math', 'Liberation Serif', serif; font-style: italic">V</tspan><tspan x="19.877" y="5.096" style="font-size: 23.87px; font-family: 'LM Roman 10', 'Latin Modern Roman', 'Latin Modern Math', 'Liberation Serif', serif">1</tspan><tspan x="35.905 39.971 69.352 72.443 94.122 99.467 127.868 143.000" y="-0.703" style="font-size: 34.1px; font-family: 'LM Roman 10', 'Latin Modern Roman', 'Latin Modern Math', 'Liberation Serif', serif"> = 5 meV</tspan></text>
</g>
</g>
<g id="text_79">
<g transform="translate(608.596 63.9)">
<text><tspan x="0.000" y="-0.594" style="font-size: 34.1px; font-family: 'LM Roman 10', 'Latin Modern Roman', 'Latin Modern Math', 'Liberation Serif', serif">Δ</tspan><tspan x="22.562" y="-0.594" textLength="27.446" lengthAdjust="spacingAndGlyphs" style="font-size: 34.1px; font-family: 'LM Roman 10', 'Latin Modern Roman', 'Latin Modern Math', 'Liberation Serif', serif; font-style: italic">V</tspan><tspan x="48.277" y="5.205" style="font-size: 23.87px; font-family: 'LM Roman 10', 'Latin Modern Roman', 'Latin Modern Math', 'Liberation Serif', serif">1</tspan><tspan x="64.305 68.371 97.753 100.843 117.890 139.753 144.914 173.315 188.447" y="-0.594" style="font-size: 34.1px; font-family: 'LM Roman 10', 'Latin Modern Roman', 'Latin Modern Math', 'Liberation Serif', serif"> = 20 meV</tspan></text>
</g>
</g>
<g id="text_80">
<g transform="translate(566.17 112.8)">
<text><tspan x="0.000" y="-0.281" style="font-size: 28.4px; font-family: 'Latin Modern Math', 'LM Roman 10', 'DejaVu Serif', serif">×</tspan><tspan x="21.705 22.055 40.108" y="-0.281" style="font-size: 28.4px; font-family: 'DejaVu Serif', serif"> 10</tspan><tspan x="58.416 75.058" y="-10.453" style="font-size: 19.88px; font-family: 'DejaVu Serif', serif">−6</tspan></text>
</g>
</g>
<g id="text_81">
<g transform="translate(640.2445 629.9)">
<text><tspan x="-3.168" y="-0.328" textLength="14.836" lengthAdjust="spacingAndGlyphs" style="font-size: 40.9px; font-family: 'LM Roman 10', 'Latin Modern Roman', 'Latin Modern Math', 'Liberation Serif', serif; font-style: italic">t</tspan><tspan x="22.098 26.721 42.594 63.040 76.863 81.540 104.242 118.604 122.742" y="-0.328" style="font-size: 40.9px; font-family: 'LM Roman 10', 'Latin Modern Roman', 'Latin Modern Math', 'Liberation Serif', serif"> (a. u. )</tspan></text>
</g>
</g>
<g id="text_82">
<text style="font-size: 28.4px; font-family: 'DejaVu Serif', serif; text-anchor: start" x="583.22" y="156.1" transform="rotate(-0 583.22 156.1)">(b)</text>
</g>
<g id="text_83">
<g transform="translate(1075.8175 23.7)">
<text><tspan x="-5.839" y="-0.703" textLength="27.446" lengthAdjust="spacingAndGlyphs" style="font-size: 34.1px; font-family: 'LM Roman 10', 'Latin Modern Roman', 'Latin Modern Math', 'Liberation Serif', serif; font-style: italic">V</tspan><tspan x="19.877" y="5.096" style="font-size: 23.87px; font-family: 'LM Roman 10', 'Latin Modern Roman', 'Latin Modern Math', 'Liberation Serif', serif">1</tspan><tspan x="35.905 39.971 69.219 72.443 89.490 111.352 116.514 144.914 160.047" y="-0.703" style="font-size: 34.1px; font-family: 'LM Roman 10', 'Latin Modern Roman', 'Latin Modern Math', 'Liberation Serif', serif"> = 90 meV</tspan></text>
</g>
</g>
<g id="text_84">
<g transform="translate(1048.591 63.9)">
<text><tspan x="0.000" y="-0.594" style="font-size: 34.1px; font-family: 'LM Roman 10', 'Latin Modern Roman', 'Latin Modern Math', 'Liberation Serif', serif">Δ</tspan><tspan x="22.562" y="-0.594" textLength="27.446" lengthAdjust="spacingAndGlyphs" style="font-size: 34.1px; font-family: 'LM Roman 10', 'Latin Modern Roman', 'Latin Modern Math', 'Liberation Serif', serif; font-style: italic">V</tspan><tspan x="48.277" y="5.205" style="font-size: 23.87px; font-family: 'LM Roman 10', 'Latin Modern Roman', 'Latin Modern Math', 'Liberation Serif', serif">1</tspan><tspan x="64.305 68.371 97.570 100.843 122.706 127.868 156.268 171.400" y="-0.594" style="font-size: 34.1px; font-family: 'LM Roman 10', 'Latin Modern Roman', 'Latin Modern Math', 'Liberation Serif', serif"> = 0 meV</tspan></text>
</g>
</g>
<g id="text_85">
<g transform="translate(997.24 112.8)">
<text><tspan x="0.000" y="-0.281" style="font-size: 28.4px; font-family: 'Latin Modern Math', 'LM Roman 10', 'DejaVu Serif', serif">×</tspan><tspan x="21.705 22.055 40.108" y="-0.281" style="font-size: 28.4px; font-family: 'DejaVu Serif', serif"> 10</tspan><tspan x="58.416 75.058" y="-10.453" style="font-size: 19.88px; font-family: 'DejaVu Serif', serif">−6</tspan></text>
</g>
</g>
<g id="text_86">
<g transform="translate(1071.3145 629.9)">
<text><tspan x="-3.168" y="-0.328" textLength="14.836" lengthAdjust="spacingAndGlyphs" style="font-size: 40.9px; font-family: 'LM Roman 10', 'Latin Modern Roman', 'Latin Modern Math', 'Liberation Serif', serif; font-style: italic">t</tspan><tspan x="22.098 26.721 42.594 63.040 76.863 81.540 104.242 118.604 122.742" y="-0.328" style="font-size: 40.9px; font-family: 'LM Roman 10', 'Latin Modern Roman', 'Latin Modern Math', 'Liberation Serif', serif"> (a. u. )</tspan></text>
</g>
</g>
<g id="text_87">
<text style="font-size: 28.4px; font-family: 'DejaVu Serif', serif; text-anchor: start" x="1014.29" y="156.1" transform="rotate(-0 1014.29 156.1)">(c)</text>
</g>
<g id="text_88">
<g transform="translate(1495.3875 23.7)">
<text><tspan x="-5.839" y="-0.703" textLength="27.446" lengthAdjust="spacingAndGlyphs" style="font-size: 34.1px; font-family: 'LM Roman 10', 'Latin Modern Roman', 'Latin Modern Math', 'Liberation Serif', serif; font-style: italic">V</tspan><tspan x="19.877" y="5.096" style="font-size: 23.87px; font-family: 'LM Roman 10', 'Latin Modern Roman', 'Latin Modern Math', 'Liberation Serif', serif">1</tspan><tspan x="35.905 39.971 69.219 72.443 89.490 111.352 116.514 144.914 160.047" y="-0.703" style="font-size: 34.1px; font-family: 'LM Roman 10', 'Latin Modern Roman', 'Latin Modern Math', 'Liberation Serif', serif"> = 90 meV</tspan></text>
</g>
</g>
<g id="text_89">
<g transform="translate(1470.936 63.9)">
<text><tspan x="0.000" y="-0.594" style="font-size: 34.1px; font-family: 'LM Roman 10', 'Latin Modern Roman', 'Latin Modern Math', 'Liberation Serif', serif">Δ</tspan><tspan x="22.562" y="-0.594" textLength="27.446" lengthAdjust="spacingAndGlyphs" style="font-size: 34.1px; font-family: 'LM Roman 10', 'Latin Modern Roman', 'Latin Modern Math', 'Liberation Serif', serif; font-style: italic">V</tspan><tspan x="48.277" y="5.205" style="font-size: 23.87px; font-family: 'LM Roman 10', 'Latin Modern Roman', 'Latin Modern Math', 'Liberation Serif', serif">1</tspan><tspan x="64.305 68.371 97.378 100.843 117.890 139.753 144.914 173.315 188.447" y="-0.594" style="font-size: 34.1px; font-family: 'LM Roman 10', 'Latin Modern Roman', 'Latin Modern Math', 'Liberation Serif', serif"> = 40 meV</tspan></text>
</g>
</g>
<g id="text_90">
<g transform="translate(1428.31 112.8)">
<text><tspan x="0.000" y="-0.544" style="font-size: 28.4px; font-family: 'Latin Modern Math', 'LM Roman 10', 'DejaVu Serif', serif">×</tspan><tspan x="21.705 22.055 40.108" y="-0.544" style="font-size: 28.4px; font-family: 'DejaVu Serif', serif"> 10</tspan><tspan x="58.416 75.058" y="-10.716" style="font-size: 19.88px; font-family: 'DejaVu Serif', serif">−5</tspan></text>
</g>
</g>
<g id="text_91">
<g transform="translate(1502.3845 629.9)">
<text><tspan x="-3.168" y="-0.328" textLength="14.836" lengthAdjust="spacingAndGlyphs" style="font-size: 40.9px; font-family: 'LM Roman 10', 'Latin Modern Roman', 'Latin Modern Math', 'Liberation Serif', serif; font-style: italic">t</tspan><tspan x="22.098 26.721 42.594 63.040 76.863 81.540 104.242 118.604 122.742" y="-0.328" style="font-size: 40.9px; font-family: 'LM Roman 10', 'Latin Modern Roman', 'Latin Modern Math', 'Liberation Serif', serif"> (a. u. )</tspan></text>
</g>
</g>
<g id="text_92">
<text style="font-size: 28.4px; font-family: 'DejaVu Serif', serif; text-anchor: start" x="1445.36" y="156.1" transform="rotate(-0 1445.36 156.1)">(d)</text>
</g>
<g id="text_93">
<g transform="translate(135.1 677.4)">
<text><tspan x="0.000" y="-0.281" style="font-size: 28.4px; font-family: 'Latin Modern Math', 'LM Roman 10', 'DejaVu Serif', serif">×</tspan><tspan x="21.705 22.055 40.108" y="-0.281" style="font-size: 28.4px; font-family: 'DejaVu Serif', serif"> 10</tspan><tspan x="58.416 75.058" y="-10.453" style="font-size: 19.88px; font-family: 'DejaVu Serif', serif">−1</tspan></text>
</g>
</g>
<g id="text_94">
<g transform="translate(227.775 1023.2)">
<text><tspan x="-7.003" y="-0.328" textLength="32.919" lengthAdjust="spacingAndGlyphs" style="font-size: 40.9px; font-family: 'LM Roman 10', 'Latin Modern Roman', 'Latin Modern Math', 'Liberation Serif', serif; font-style: italic">V</tspan><tspan x="23.840" y="6.627" style="font-size: 28.63px; font-family: 'LM Roman 10', 'Latin Modern Roman', 'Latin Modern Math', 'Liberation Serif', serif">2</tspan><tspan x="40.760" y="-0.328" style="font-size: 40.9px; font-family: 'LM Roman 10', 'Latin Modern Roman', 'Latin Modern Math', 'Liberation Serif', serif">/</tspan><tspan x="54.202" y="-0.328" textLength="32.919" lengthAdjust="spacingAndGlyphs" style="font-size: 40.9px; font-family: 'LM Roman 10', 'Latin Modern Roman', 'Latin Modern Math', 'Liberation Serif', serif; font-style: italic">V</tspan><tspan x="85.044" y="6.627" style="font-size: 28.63px; font-family: 'LM Roman 10', 'Latin Modern Roman', 'Latin Modern Math', 'Liberation Serif', serif">1</tspan></text>
</g>
</g>
<g id="text_95">
<g transform="translate(36.1 959.1675) rotate(-90)">
<text><tspan x="-0.669" y="-0.286" style="font-size: 40.9px; font-family: 'Latin Modern Math', 'LM Roman 10', 'Liberation Serif', serif; font-style: italic">μ</tspan><tspan x="32.042 36.584 52.458 70.607" y="-0.286" style="font-size: 40.9px; font-family: 'LM Roman 10', 'Latin Modern Roman', 'Latin Modern Math', 'Liberation Serif', serif"> (cm</tspan><tspan x="106.495" y="-15.936" style="font-size: 28.63px; font-family: 'LM Roman 10', 'Latin Modern Roman', 'Latin Modern Math', 'Liberation Serif', serif">2</tspan><tspan x="127.758 135.381" y="-0.286" style="font-size: 40.9px; font-family: 'LM Roman 10', 'Latin Modern Roman', 'Latin Modern Math', 'Liberation Serif', serif"> V</tspan><tspan x="167.875" y="-15.936" style="font-size: 28.63px; font-family: 'Latin Modern Math', 'LM Roman 10', 'DejaVu Serif', serif">−</tspan><tspan x="190.111" y="-15.936" style="font-size: 28.63px; font-family: 'LM Roman 10', 'Latin Modern Roman', 'Latin Modern Math', 'Liberation Serif', serif">1</tspan><tspan x="211.258 218.997" y="-0.286" style="font-size: 40.9px; font-family: 'LM Roman 10', 'Latin Modern Roman', 'Latin Modern Math', 'Liberation Serif', serif"> s</tspan><tspan x="236.936" y="-15.936" style="font-size: 28.63px; font-family: 'Latin Modern Math', 'LM Roman 10', 'DejaVu Serif', serif">−</tspan><tspan x="259.172" y="-15.936" style="font-size: 28.63px; font-family: 'LM Roman 10', 'Latin Modern Roman', 'Latin Modern Math', 'Liberation Serif', serif">1</tspan><tspan x="276.092" y="-0.286" style="font-size: 40.9px; font-family: 'LM Roman 10', 'Latin Modern Roman', 'Latin Modern Math', 'Liberation Serif', serif">)</tspan></text>
</g>
</g>
<g id="text_96">
<text style="font-size: 28.4px; font-family: 'DejaVu Serif', serif; text-anchor: start" x="148.2" y="716.5" transform="rotate(-0 148.2 716.5)">(e)</text>
</g>
<g id="text_97">
<g transform="translate(658.845 1023.2)">
<text><tspan x="-7.003" y="-0.328" textLength="32.919" lengthAdjust="spacingAndGlyphs" style="font-size: 40.9px; font-family: 'LM Roman 10', 'Latin Modern Roman', 'Latin Modern Math', 'Liberation Serif', serif; font-style: italic">V</tspan><tspan x="23.840" y="6.627" style="font-size: 28.63px; font-family: 'LM Roman 10', 'Latin Modern Roman', 'Latin Modern Math', 'Liberation Serif', serif">2</tspan><tspan x="40.760" y="-0.328" style="font-size: 40.9px; font-family: 'LM Roman 10', 'Latin Modern Roman', 'Latin Modern Math', 'Liberation Serif', serif">/</tspan><tspan x="54.202" y="-0.328" textLength="32.919" lengthAdjust="spacingAndGlyphs" style="font-size: 40.9px; font-family: 'LM Roman 10', 'Latin Modern Roman', 'Latin Modern Math', 'Liberation Serif', serif; font-style: italic">V</tspan><tspan x="85.044" y="6.627" style="font-size: 28.63px; font-family: 'LM Roman 10', 'Latin Modern Roman', 'Latin Modern Math', 'Liberation Serif', serif">1</tspan></text>
</g>
</g>
<g id="text_98">
<text style="font-size: 28.4px; font-family: 'DejaVu Serif', serif; text-anchor: start" x="579.27" y="716.5" transform="rotate(-0 579.27 716.5)">(f)</text>
</g>
<g id="text_99">
<g transform="translate(997.24 677.4)">
<text><tspan x="0.000" y="-0.281" style="font-size: 28.4px; font-family: 'Latin Modern Math', 'LM Roman 10', 'DejaVu Serif', serif">×</tspan><tspan x="21.705 22.055 40.108" y="-0.281" style="font-size: 28.4px; font-family: 'DejaVu Serif', serif"> 10</tspan><tspan x="58.416" y="-10.453" style="font-size: 19.88px; font-family: 'DejaVu Serif', serif">1</tspan></text>
</g>
</g>
<g id="text_100">
<g transform="translate(1089.915 1023.2)">
<text><tspan x="-7.003" y="-0.328" textLength="32.919" lengthAdjust="spacingAndGlyphs" style="font-size: 40.9px; font-family: 'LM Roman 10', 'Latin Modern Roman', 'Latin Modern Math', 'Liberation Serif', serif; font-style: italic">V</tspan><tspan x="23.840" y="6.627" style="font-size: 28.63px; font-family: 'LM Roman 10', 'Latin Modern Roman', 'Latin Modern Math', 'Liberation Serif', serif">2</tspan><tspan x="40.760" y="-0.328" style="font-size: 40.9px; font-family: 'LM Roman 10', 'Latin Modern Roman', 'Latin Modern Math', 'Liberation Serif', serif">/</tspan><tspan x="54.202" y="-0.328" textLength="32.919" lengthAdjust="spacingAndGlyphs" style="font-size: 40.9px; font-family: 'LM Roman 10', 'Latin Modern Roman', 'Latin Modern Math', 'Liberation Serif', serif; font-style: italic">V</tspan><tspan x="85.044" y="6.627" style="font-size: 28.63px; font-family: 'LM Roman 10', 'Latin Modern Roman', 'Latin Modern Math', 'Liberation Serif', serif">1</tspan></text>
</g>
</g>
<g id="text_101">
<text style="font-size: 28.4px; font-family: 'DejaVu Serif', serif; text-anchor: start" x="1010.34" y="716.5" transform="rotate(-0 1010.34 716.5)">(g)</text>
</g>
<g id="text_102">
<g transform="translate(1520.985 1023.2)">
<text><tspan x="-7.003" y="-0.328" textLength="32.919" lengthAdjust="spacingAndGlyphs" style="font-size: 40.9px; font-family: 'LM Roman 10', 'Latin Modern Roman', 'Latin Modern Math', 'Liberation Serif', serif; font-style: italic">V</tspan><tspan x="23.840" y="6.627" style="font-size: 28.63px; font-family: 'LM Roman 10', 'Latin Modern Roman', 'Latin Modern Math', 'Liberation Serif', serif">2</tspan><tspan x="40.760" y="-0.328" style="font-size: 40.9px; font-family: 'LM Roman 10', 'Latin Modern Roman', 'Latin Modern Math', 'Liberation Serif', serif">/</tspan><tspan x="54.202" y="-0.328" textLength="32.919" lengthAdjust="spacingAndGlyphs" style="font-size: 40.9px; font-family: 'LM Roman 10', 'Latin Modern Roman', 'Latin Modern Math', 'Liberation Serif', serif; font-style: italic">V</tspan><tspan x="85.044" y="6.627" style="font-size: 28.63px; font-family: 'LM Roman 10', 'Latin Modern Roman', 'Latin Modern Math', 'Liberation Serif', serif">1</tspan></text>
</g>
</g>
<g id="text_103">
<text style="font-size: 28.4px; font-family: 'DejaVu Serif', serif; text-anchor: start" x="1441.41" y="716.5" transform="rotate(-0 1441.41 716.5)">(h)</text>
</g>
</g>
<defs>
<clipPath id="pfdea53a54f">
<rect x="135.1" y="119.95" width="287.2" height="427.65"/>
</clipPath>
<clipPath id="p619d3c3fff">
<rect x="566.17" y="119.95" width="287.2" height="427.65"/>
</clipPath>
<clipPath id="pff42ee27c5">
<rect x="997.24" y="119.95" width="287.2" height="427.65"/>
</clipPath>
<clipPath id="pb9c036f7d7">
<rect x="1428.31" y="119.95" width="287.2" height="427.65"/>
</clipPath>
<clipPath id="p1c688ab38d">
<rect x="135.1" y="684.7" width="287.2" height="256.25"/>
</clipPath>
<clipPath id="p7455542241">
<rect x="566.17" y="684.7" width="287.2" height="256.25"/>
</clipPath>
<clipPath id="p06acb42d05">
<rect x="997.24" y="684.7" width="287.2" height="256.25"/>
</clipPath>
<clipPath id="p600947fd62">
<rect x="1428.31" y="684.7" width="287.2" height="256.25"/>
</clipPath>
</defs>
</svg>

</body></html>
